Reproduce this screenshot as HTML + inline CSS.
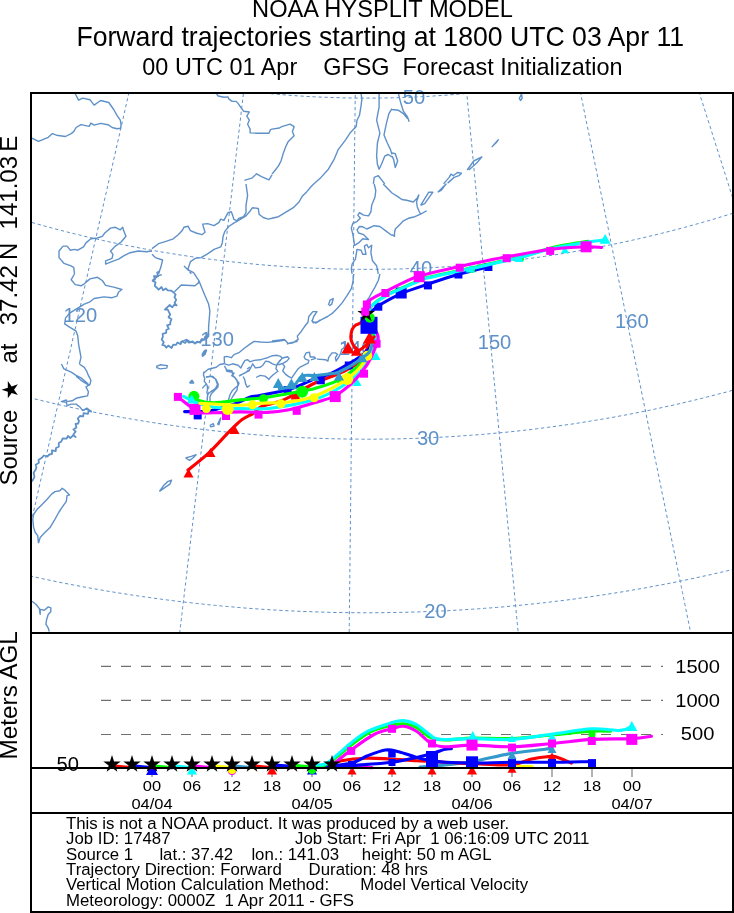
<!DOCTYPE html>
<html><head><meta charset="utf-8"><style>
html,body{margin:0;padding:0;background:#fff;width:734px;height:913px;overflow:hidden}
svg{display:block;will-change:transform}
text{font-family:"Liberation Sans",sans-serif}
</style></head><body>
<svg width="734" height="913" viewBox="0 0 734 913"><text transform="translate(382.5,16.75) scale(0.957,1)" font-size="24.7" text-anchor="middle" font-family="Liberation Sans, sans-serif">NOAA HYSPLIT MODEL</text>
<text transform="translate(380.25,45.9) scale(0.965,1)" font-size="27.6" text-anchor="middle" font-family="Liberation Sans, sans-serif">Forward trajectories starting at 1800 UTC 03 Apr 11</text>
<text transform="translate(382.4,74.9) scale(0.96,1)" font-size="24.4" text-anchor="middle" font-family="Liberation Sans, sans-serif" xml:space="preserve">00 UTC 01 Apr    GFSG  Forecast Initialization</text>
<text transform="translate(17,485.6) rotate(-90)" font-size="24" font-family="Liberation Sans, sans-serif">Source</text>
<text transform="translate(17,363.5) rotate(-90)" font-size="24" font-family="Liberation Sans, sans-serif">at</text>
<text transform="translate(17,325.3) rotate(-90)" font-size="24" font-family="Liberation Sans, sans-serif">37.42</text>
<text transform="translate(17,259.9) rotate(-90)" font-size="24" font-family="Liberation Sans, sans-serif">N</text>
<text transform="translate(17,229.4) rotate(-90)" font-size="24" font-family="Liberation Sans, sans-serif">141.03</text>
<text transform="translate(17,151.7) rotate(-90)" font-size="24" font-family="Liberation Sans, sans-serif">E</text>
<polygon points="1.60,389.65 7.82,387.63 7.82,381.09 11.66,386.38 17.88,384.36 14.04,389.65 17.88,394.94 11.66,392.92 7.82,398.21 7.82,391.67" fill="#000" />
<text transform="translate(17,695.3) rotate(-90)" font-size="24.3" text-anchor="middle" font-family="Liberation Sans, sans-serif">Meters AGL</text>
<defs><clipPath id="mc"><rect x="32" y="94" width="700" height="538"/></clipPath></defs>
<g clip-path="url(#mc)"><path d="M-263.7,887.2 L-261.3,880.4 L-259.0,873.5 L-256.6,866.7 L-254.3,859.9 L-252.0,853.1 L-249.7,846.4 L-247.4,839.7 L-245.1,833.0 L-242.8,826.3 L-240.5,819.7 L-238.2,813.0 L-236.0,806.4 L-233.7,799.8 L-231.5,793.3 L-229.2,786.7 L-227.0,780.2 L-224.8,773.7 L-222.5,767.2 L-220.3,760.7 L-218.1,754.3 L-215.9,747.9 L-213.7,741.5 L-211.5,735.1 L-209.4,728.7 L-207.2,722.4 L-205.0,716.0 L-202.8,709.7 L-200.7,703.4 L-198.5,697.2 L-196.4,690.9 L-194.2,684.7 L-192.1,678.4 L-190.0,672.2 L-187.9,666.0 L-185.7,659.8 L-183.6,653.7 L-181.5,647.5 L-179.4,641.4 L-177.3,635.3 L-175.2,629.2 L-173.1,623.1 L-171.1,617.0 L-169.0,610.9 L-166.9,604.9 L-164.8,598.8 L-162.8,592.8 L-160.7,586.8 L-158.6,580.8 L-156.6,574.8 L-154.5,568.8 L-152.5,562.9 L-150.5,556.9 L-148.4,551.0 L-146.4,545.0 L-144.4,539.1 L-142.3,533.2 L-140.3,527.3 L-138.3,521.4 L-136.3,515.6 L-134.3,509.7 L-132.3,503.8 L-130.3,498.0 L-128.3,492.1 L-126.3,486.3 L-124.3,480.5 L-122.3,474.7 L-120.3,468.9 L-118.3,463.1 L-116.3,457.3 L-114.3,451.5 L-112.3,445.7 L-110.4,440.0 L-108.4,434.2 L-106.4,428.5 L-104.5,422.7 L-102.5,417.0 L-100.5,411.2 L-98.6,405.5 L-96.6,399.8 L-94.6,394.1 L-92.7,388.4 L-90.7,382.7 L-88.8,377.0 L-86.8,371.3 L-84.9,365.6 L-82.9,359.9 L-81.0,354.2 L-79.0,348.5 L-77.1,342.9 L-75.1,337.2 L-73.2,331.5 L-71.3,325.9 L-69.3,320.2 L-67.4,314.5 L-65.4,308.9 L-63.5,303.2 L-61.6,297.6 L-59.6,291.9 L-57.7,286.3 L-55.8,280.7 L-53.8,275.0 L-51.9,269.4 L-50.0,263.7 L-48.0,258.1 L-46.1,252.5 L-44.2,246.8 L-42.2,241.2 L-40.3,235.5 L-38.4,229.9 L-36.4,224.3 L-34.5,218.6 L-32.6,213.0 L-30.6,207.3 L-28.7,201.7 L-26.8,196.0 L-24.8,190.4 L-22.9,184.7 L-20.9,179.1 L-19.0,173.4 L-17.1,167.8 L-15.1,162.1 L-13.2,156.5 L-11.2,150.8 L-9.3,145.1 L-7.4,139.5 L-5.4,133.8 L-3.5,128.1 L-1.5,122.4 L0.4,116.7 L2.4,111.0 L4.3,105.3 L6.3,99.6 L8.3,93.9 L10.2,88.2 L12.2,82.4 L14.1,76.7 L16.1,71.0 L18.1,65.2 L20.1,59.5 L22.0,53.7 L24.0,47.9 L26.0,42.2 L28.0,36.4 L30.0,30.6 L32.0,24.8 L33.9,19.0 L35.9,13.1 L37.9,7.3 L39.9,1.5 L42.0,-4.4 L44.0,-10.3 L46.0,-16.2 L48.0,-22.0 L50.0,-27.9 L52.1,-33.9 L54.1,-39.8 L56.1,-45.7 L58.2,-51.7 L60.2,-57.7 L62.3,-63.6 L64.3,-69.6 L66.4,-75.6 L68.4,-81.7 L70.5,-87.7 L72.6,-93.8 L74.7,-99.9 L76.8,-106.0 L78.9,-112.1 L81.0,-118.2 L83.1,-124.3 L85.2,-130.5 L87.3,-136.7 L89.4,-142.9 L91.6,-149.1 L93.7,-155.4 L95.9,-161.7 L98.0,-168.0 L100.2,-174.3 L102.4,-180.6 L104.5,-187.0 L106.7,-193.4 L108.9,-199.8 L111.1,-206.2 L113.4,-212.7 L115.6,-219.2 L117.8,-225.7 L120.1,-232.3 L122.3,-238.9 L124.6,-245.5 L126.9,-252.1 L129.2,-258.8 L131.5,-265.5 L133.8,-272.3 L136.1,-279.0 L138.4,-285.8 L140.8,-292.7 L143.1,-299.6 L145.5,-306.5 L147.9,-313.5 M-64.9,943.8 L-63.3,936.7 L-61.6,929.6 L-60.0,922.6 L-58.5,915.6 L-56.9,908.6 L-55.3,901.7 L-53.7,894.8 L-52.1,887.9 L-50.6,881.0 L-49.0,874.1 L-47.4,867.3 L-45.9,860.5 L-44.3,853.7 L-42.8,846.9 L-41.3,840.2 L-39.7,833.4 L-38.2,826.7 L-36.7,820.1 L-35.2,813.4 L-33.7,806.8 L-32.2,800.1 L-30.7,793.5 L-29.2,787.0 L-27.7,780.4 L-26.2,773.9 L-24.7,767.3 L-23.2,760.8 L-21.7,754.3 L-20.2,747.9 L-18.8,741.4 L-17.3,735.0 L-15.9,728.6 L-14.4,722.2 L-12.9,715.8 L-11.5,709.4 L-10.0,703.0 L-8.6,696.7 L-7.2,690.4 L-5.7,684.1 L-4.3,677.8 L-2.9,671.5 L-1.4,665.2 L-0.0,659.0 L1.4,652.7 L2.8,646.5 L4.2,640.3 L5.7,634.1 L7.1,627.9 L8.5,621.8 L9.9,615.6 L11.3,609.4 L12.7,603.3 L14.1,597.2 L15.5,591.1 L16.8,585.0 L18.2,578.9 L19.6,572.8 L21.0,566.7 L22.4,560.7 L23.8,554.6 L25.1,548.6 L26.5,542.6 L27.9,536.5 L29.2,530.5 L30.6,524.5 L32.0,518.5 L33.3,512.6 L34.7,506.6 L36.1,500.6 L37.4,494.7 L38.8,488.7 L40.1,482.8 L41.5,476.8 L42.8,470.9 L44.2,465.0 L45.5,459.1 L46.9,453.2 L48.2,447.3 L49.6,441.4 L50.9,435.5 L52.2,429.6 L53.6,423.7 L54.9,417.8 L56.2,412.0 L57.6,406.1 L58.9,400.2 L60.3,394.4 L61.6,388.5 L62.9,382.7 L64.2,376.8 L65.6,371.0 L66.9,365.2 L68.2,359.3 L69.6,353.5 L70.9,347.7 L72.2,341.8 L73.5,336.0 L74.9,330.2 L76.2,324.4 L77.5,318.6 L78.8,312.7 L80.2,306.9 L81.5,301.1 L82.8,295.3 L84.1,289.5 L85.5,283.7 L86.8,277.9 L88.1,272.1 L89.4,266.2 L90.8,260.4 L92.1,254.6 L93.4,248.8 L94.7,243.0 L96.1,237.2 L97.4,231.3 L98.7,225.5 L100.0,219.7 L101.4,213.9 L102.7,208.0 L104.0,202.2 L105.3,196.4 L106.7,190.5 L108.0,184.7 L109.3,178.9 L110.7,173.0 L112.0,167.2 L113.3,161.3 L114.7,155.4 L116.0,149.6 L117.3,143.7 L118.7,137.8 L120.0,131.9 L121.4,126.1 L122.7,120.2 L124.0,114.3 L125.4,108.3 L126.7,102.4 L128.1,96.5 L129.4,90.6 L130.8,84.6 L132.1,78.7 L133.5,72.7 L134.9,66.8 L136.2,60.8 L137.6,54.8 L138.9,48.8 L140.3,42.8 L141.7,36.8 L143.1,30.8 L144.4,24.7 L145.8,18.7 L147.2,12.6 L148.6,6.6 L150.0,0.5 L151.3,-5.6 L152.7,-11.7 L154.1,-17.9 L155.5,-24.0 L156.9,-30.1 L158.3,-36.3 L159.7,-42.5 L161.2,-48.7 L162.6,-54.9 L164.0,-61.1 L165.4,-67.4 L166.8,-73.6 L168.3,-79.9 L169.7,-86.2 L171.1,-92.5 L172.6,-98.9 L174.0,-105.2 L175.5,-111.6 L176.9,-118.0 L178.4,-124.4 L179.9,-130.9 L181.3,-137.4 L182.8,-143.8 L184.3,-150.4 L185.8,-156.9 L187.3,-163.5 L188.8,-170.0 L190.3,-176.7 L191.8,-183.3 L193.3,-190.0 L194.9,-196.7 L196.4,-203.4 L197.9,-210.1 L199.5,-216.9 L201.0,-223.7 L202.6,-230.6 L204.1,-237.5 L205.7,-244.4 L207.3,-251.3 L208.9,-258.3 L210.5,-265.4 L212.1,-272.4 L213.7,-279.5 L215.3,-286.7 L217.0,-293.8 M138.8,978.9 L139.7,971.7 L140.5,964.5 L141.4,957.4 L142.2,950.2 L143.1,943.1 L143.9,936.0 L144.7,929.0 L145.6,921.9 L146.4,914.9 L147.2,908.0 L148.0,901.0 L148.9,894.1 L149.7,887.1 L150.5,880.2 L151.3,873.4 L152.1,866.5 L152.9,859.7 L153.7,852.9 L154.5,846.1 L155.3,839.4 L156.1,832.6 L156.9,825.9 L157.7,819.2 L158.5,812.5 L159.3,805.8 L160.1,799.2 L160.9,792.6 L161.6,786.0 L162.4,779.4 L163.2,772.8 L164.0,766.2 L164.7,759.7 L165.5,753.2 L166.3,746.7 L167.0,740.2 L167.8,733.7 L168.6,727.3 L169.3,720.8 L170.1,714.4 L170.8,708.0 L171.6,701.6 L172.4,695.2 L173.1,688.8 L173.9,682.5 L174.6,676.1 L175.4,669.8 L176.1,663.5 L176.8,657.2 L177.6,650.9 L178.3,644.6 L179.1,638.4 L179.8,632.1 L180.5,625.9 L181.3,619.7 L182.0,613.5 L182.7,607.3 L183.5,601.1 L184.2,594.9 L184.9,588.7 L185.7,582.6 L186.4,576.4 L187.1,570.3 L187.8,564.1 L188.6,558.0 L189.3,551.9 L190.0,545.8 L190.7,539.7 L191.4,533.6 L192.2,527.5 L192.9,521.5 L193.6,515.4 L194.3,509.4 L195.0,503.3 L195.7,497.3 L196.5,491.2 L197.2,485.2 L197.9,479.2 L198.6,473.2 L199.3,467.2 L200.0,461.2 L200.7,455.2 L201.4,449.2 L202.1,443.2 L202.8,437.2 L203.5,431.3 L204.2,425.3 L204.9,419.3 L205.7,413.4 L206.4,407.4 L207.1,401.5 L207.8,395.5 L208.5,389.6 L209.2,383.6 L209.9,377.7 L210.6,371.8 L211.3,365.8 L212.0,359.9 L212.7,354.0 L213.4,348.0 L214.1,342.1 L214.8,336.2 L215.5,330.3 L216.2,324.3 L216.9,318.4 L217.6,312.5 L218.3,306.6 L219.0,300.7 L219.7,294.7 L220.4,288.8 L221.1,282.9 L221.8,277.0 L222.5,271.1 L223.2,265.1 L223.9,259.2 L224.6,253.3 L225.3,247.3 L226.0,241.4 L226.7,235.5 L227.4,229.5 L228.1,223.6 L228.8,217.7 L229.5,211.7 L230.2,205.8 L230.9,199.8 L231.6,193.9 L232.3,187.9 L233.0,181.9 L233.7,176.0 L234.4,170.0 L235.1,164.0 L235.8,158.0 L236.5,152.0 L237.2,146.0 L237.9,140.0 L238.7,134.0 L239.4,128.0 L240.1,122.0 L240.8,115.9 L241.5,109.9 L242.2,103.9 L242.9,97.8 L243.7,91.7 L244.4,85.7 L245.1,79.6 L245.8,73.5 L246.5,67.4 L247.3,61.3 L248.0,55.1 L248.7,49.0 L249.4,42.8 L250.2,36.7 L250.9,30.5 L251.6,24.3 L252.3,18.1 L253.1,11.9 L253.8,5.7 L254.6,-0.5 L255.3,-6.8 L256.0,-13.1 L256.8,-19.3 L257.5,-25.6 L258.3,-31.9 L259.0,-38.3 L259.8,-44.6 L260.5,-51.0 L261.3,-57.4 L262.0,-63.8 L262.8,-70.2 L263.5,-76.6 L264.3,-83.1 L265.1,-89.5 L265.8,-96.0 L266.6,-102.6 L267.4,-109.1 L268.2,-115.7 L268.9,-122.3 L269.7,-128.9 L270.5,-135.5 L271.3,-142.1 L272.1,-148.8 L272.9,-155.5 L273.7,-162.3 L274.5,-169.0 L275.3,-175.8 L276.1,-182.7 L276.9,-189.5 L277.7,-196.4 L278.5,-203.3 L279.3,-210.2 L280.2,-217.2 L281.0,-224.2 L281.8,-231.3 L282.6,-238.3 L283.5,-245.5 L284.3,-252.6 L285.2,-259.8 L286.0,-267.0 L286.9,-274.3 L287.8,-281.6 M345.1,992.2 L345.2,985.0 L345.3,977.7 L345.4,970.5 L345.4,963.3 L345.5,956.2 L345.6,949.0 L345.7,941.9 L345.8,934.9 L345.8,927.8 L345.9,920.8 L346.0,913.8 L346.1,906.8 L346.2,899.8 L346.2,892.9 L346.3,886.0 L346.4,879.1 L346.5,872.2 L346.5,865.3 L346.6,858.5 L346.7,851.7 L346.8,844.9 L346.9,838.1 L346.9,831.4 L347.0,824.7 L347.1,818.0 L347.2,811.3 L347.2,804.6 L347.3,797.9 L347.4,791.3 L347.5,784.7 L347.5,778.1 L347.6,771.5 L347.7,764.9 L347.8,758.4 L347.8,751.8 L347.9,745.3 L348.0,738.8 L348.0,732.3 L348.1,725.9 L348.2,719.4 L348.3,713.0 L348.3,706.6 L348.4,700.1 L348.5,693.7 L348.6,687.4 L348.6,681.0 L348.7,674.6 L348.8,668.3 L348.8,662.0 L348.9,655.7 L349.0,649.3 L349.1,643.1 L349.1,636.8 L349.2,630.5 L349.3,624.2 L349.3,618.0 L349.4,611.8 L349.5,605.5 L349.5,599.3 L349.6,593.1 L349.7,586.9 L349.8,580.8 L349.8,574.6 L349.9,568.4 L350.0,562.3 L350.0,556.1 L350.1,550.0 L350.2,543.9 L350.2,537.7 L350.3,531.6 L350.4,525.5 L350.4,519.4 L350.5,513.3 L350.6,507.3 L350.7,501.2 L350.7,495.1 L350.8,489.1 L350.9,483.0 L350.9,477.0 L351.0,470.9 L351.1,464.9 L351.1,458.9 L351.2,452.8 L351.3,446.8 L351.3,440.8 L351.4,434.8 L351.5,428.8 L351.5,422.8 L351.6,416.8 L351.7,410.8 L351.7,404.8 L351.8,398.8 L351.9,392.8 L351.9,386.9 L352.0,380.9 L352.1,374.9 L352.1,368.9 L352.2,363.0 L352.3,357.0 L352.3,351.0 L352.4,345.1 L352.5,339.1 L352.5,333.1 L352.6,327.2 L352.7,321.2 L352.8,315.3 L352.8,309.3 L352.9,303.3 L353.0,297.4 L353.0,291.4 L353.1,285.4 L353.2,279.5 L353.2,273.5 L353.3,267.6 L353.4,261.6 L353.4,255.6 L353.5,249.6 L353.6,243.7 L353.6,237.7 L353.7,231.7 L353.8,225.7 L353.8,219.7 L353.9,213.8 L354.0,207.8 L354.0,201.8 L354.1,195.8 L354.2,189.8 L354.2,183.7 L354.3,177.7 L354.4,171.7 L354.4,165.7 L354.5,159.6 L354.6,153.6 L354.6,147.6 L354.7,141.5 L354.8,135.5 L354.8,129.4 L354.9,123.3 L355.0,117.2 L355.1,111.1 L355.1,105.0 L355.2,98.9 L355.3,92.8 L355.3,86.7 L355.4,80.5 L355.5,74.4 L355.5,68.2 L355.6,62.1 L355.7,55.9 L355.7,49.7 L355.8,43.5 L355.9,37.3 L356.0,31.1 L356.0,24.8 L356.1,18.6 L356.2,12.3 L356.2,6.0 L356.3,-0.3 L356.4,-6.6 L356.5,-12.9 L356.5,-19.2 L356.6,-25.6 L356.7,-32.0 L356.7,-38.4 L356.8,-44.8 L356.9,-51.2 L357.0,-57.6 L357.0,-64.1 L357.1,-70.6 L357.2,-77.1 L357.3,-83.6 L357.3,-90.1 L357.4,-96.7 L357.5,-103.3 L357.5,-109.9 L357.6,-116.5 L357.7,-123.2 L357.8,-129.9 L357.8,-136.6 L357.9,-143.3 L358.0,-150.0 L358.1,-156.8 L358.2,-163.6 L358.2,-170.5 L358.3,-177.3 L358.4,-184.2 L358.5,-191.2 L358.5,-198.1 L358.6,-205.1 L358.7,-212.1 L358.8,-219.2 L358.9,-226.3 L358.9,-233.4 L359.0,-240.6 L359.1,-247.8 L359.2,-255.0 L359.3,-262.3 L359.4,-269.6 L359.4,-277.0 M551.6,983.6 L550.9,976.3 L550.3,969.1 L549.6,962.0 L548.9,954.8 L548.2,947.7 L547.5,940.6 L546.9,933.5 L546.2,926.5 L545.5,919.4 L544.9,912.4 L544.2,905.5 L543.5,898.5 L542.9,891.6 L542.2,884.7 L541.6,877.8 L540.9,870.9 L540.2,864.1 L539.6,857.3 L538.9,850.5 L538.3,843.7 L537.7,836.9 L537.0,830.2 L536.4,823.5 L535.7,816.8 L535.1,810.1 L534.5,803.4 L533.8,796.8 L533.2,790.1 L532.6,783.5 L531.9,776.9 L531.3,770.4 L530.7,763.8 L530.1,757.3 L529.4,750.8 L528.8,744.3 L528.2,737.8 L527.6,731.3 L527.0,724.8 L526.4,718.4 L525.7,712.0 L525.1,705.6 L524.5,699.2 L523.9,692.8 L523.3,686.4 L522.7,680.1 L522.1,673.7 L521.5,667.4 L520.9,661.1 L520.3,654.8 L519.7,648.5 L519.1,642.2 L518.5,636.0 L517.9,629.7 L517.3,623.5 L516.7,617.2 L516.1,611.0 L515.5,604.8 L514.9,598.6 L514.4,592.4 L513.8,586.3 L513.2,580.1 L512.6,573.9 L512.0,567.8 L511.4,561.7 L510.8,555.5 L510.3,549.4 L509.7,543.3 L509.1,537.2 L508.5,531.1 L507.9,525.0 L507.3,518.9 L506.8,512.9 L506.2,506.8 L505.6,500.8 L505.0,494.7 L504.5,488.7 L503.9,482.6 L503.3,476.6 L502.7,470.6 L502.2,464.6 L501.6,458.6 L501.0,452.6 L500.5,446.6 L499.9,440.6 L499.3,434.6 L498.7,428.6 L498.2,422.6 L497.6,416.7 L497.0,410.7 L496.5,404.7 L495.9,398.8 L495.3,392.8 L494.8,386.8 L494.2,380.9 L493.6,374.9 L493.1,369.0 L492.5,363.1 L491.9,357.1 L491.4,351.2 L490.8,345.2 L490.2,339.3 L489.7,333.4 L489.1,327.4 L488.5,321.5 L488.0,315.5 L487.4,309.6 L486.8,303.7 L486.3,297.7 L485.7,291.8 L485.1,285.9 L484.6,279.9 L484.0,274.0 L483.4,268.1 L482.9,262.1 L482.3,256.2 L481.7,250.2 L481.2,244.3 L480.6,238.3 L480.0,232.4 L479.5,226.4 L478.9,220.5 L478.3,214.5 L477.8,208.6 L477.2,202.6 L476.6,196.6 L476.1,190.7 L475.5,184.7 L474.9,178.7 L474.3,172.7 L473.8,166.7 L473.2,160.7 L472.6,154.7 L472.1,148.7 L471.5,142.7 L470.9,136.6 L470.3,130.6 L469.8,124.6 L469.2,118.5 L468.6,112.5 L468.0,106.4 L467.4,100.3 L466.9,94.2 L466.3,88.2 L465.7,82.1 L465.1,75.9 L464.5,69.8 L464.0,63.7 L463.4,57.6 L462.8,51.4 L462.2,45.2 L461.6,39.1 L461.0,32.9 L460.4,26.7 L459.8,20.5 L459.2,14.2 L458.6,8.0 L458.1,1.8 L457.5,-4.5 L456.9,-10.8 L456.3,-17.1 L455.7,-23.4 L455.0,-29.7 L454.4,-36.1 L453.8,-42.4 L453.2,-48.8 L452.6,-55.2 L452.0,-61.6 L451.4,-68.1 L450.8,-74.5 L450.2,-81.0 L449.5,-87.5 L448.9,-94.0 L448.3,-100.5 L447.7,-107.1 L447.1,-113.6 L446.4,-120.2 L445.8,-126.9 L445.2,-133.5 L444.5,-140.2 L443.9,-146.9 L443.2,-153.6 L442.6,-160.4 L442.0,-167.1 L441.3,-174.0 L440.6,-180.8 L440.0,-187.7 L439.3,-194.6 L438.7,-201.5 L438.0,-208.4 L437.3,-215.4 L436.7,-222.5 L436.0,-229.5 L435.3,-236.6 L434.6,-243.8 L434.0,-250.9 L433.3,-258.1 L432.6,-265.4 L431.9,-272.7 L431.2,-280.0 M756.1,953.0 L754.6,945.9 L753.2,938.8 L751.7,931.8 L750.3,924.7 L748.9,917.7 L747.4,910.7 L746.0,903.8 L744.6,896.8 L743.2,889.9 L741.8,883.0 L740.4,876.2 L739.0,869.3 L737.6,862.5 L736.2,855.7 L734.8,848.9 L733.4,842.2 L732.1,835.4 L730.7,828.7 L729.3,822.0 L728.0,815.4 L726.6,808.7 L725.3,802.1 L723.9,795.5 L722.6,788.9 L721.2,782.3 L719.9,775.7 L718.6,769.2 L717.2,762.7 L715.9,756.2 L714.6,749.7 L713.2,743.2 L711.9,736.8 L710.6,730.3 L709.3,723.9 L708.0,717.5 L706.7,711.1 L705.4,704.8 L704.1,698.4 L702.8,692.1 L701.5,685.7 L700.2,679.4 L698.9,673.1 L697.7,666.9 L696.4,660.6 L695.1,654.3 L693.8,648.1 L692.6,641.9 L691.3,635.6 L690.0,629.4 L688.8,623.3 L687.5,617.1 L686.2,610.9 L685.0,604.8 L683.7,598.6 L682.5,592.5 L681.2,586.4 L680.0,580.3 L678.7,574.2 L677.5,568.1 L676.3,562.0 L675.0,555.9 L673.8,549.9 L672.5,543.8 L671.3,537.8 L670.1,531.8 L668.9,525.7 L667.6,519.7 L666.4,513.7 L665.2,507.7 L664.0,501.7 L662.7,495.8 L661.5,489.8 L660.3,483.8 L659.1,477.9 L657.9,471.9 L656.7,466.0 L655.4,460.0 L654.2,454.1 L653.0,448.2 L651.8,442.2 L650.6,436.3 L649.4,430.4 L648.2,424.5 L647.0,418.6 L645.8,412.7 L644.6,406.8 L643.4,401.0 L642.2,395.1 L641.0,389.2 L639.8,383.3 L638.6,377.5 L637.4,371.6 L636.2,365.7 L635.0,359.9 L633.8,354.0 L632.6,348.2 L631.4,342.3 L630.2,336.5 L629.0,330.6 L627.8,324.8 L626.6,318.9 L625.5,313.1 L624.3,307.2 L623.1,301.4 L621.9,295.6 L620.7,289.7 L619.5,283.9 L618.3,278.0 L617.1,272.2 L615.9,266.4 L614.7,260.5 L613.5,254.7 L612.3,248.8 L611.1,243.0 L609.9,237.1 L608.8,231.3 L607.6,225.4 L606.4,219.6 L605.2,213.7 L604.0,207.9 L602.8,202.0 L601.6,196.1 L600.4,190.3 L599.2,184.4 L598.0,178.5 L596.8,172.6 L595.6,166.7 L594.4,160.9 L593.2,155.0 L592.0,149.1 L590.8,143.2 L589.6,137.2 L588.4,131.3 L587.1,125.4 L585.9,119.5 L584.7,113.5 L583.5,107.6 L582.3,101.6 L581.1,95.7 L579.9,89.7 L578.6,83.7 L577.4,77.7 L576.2,71.7 L575.0,65.7 L573.7,59.7 L572.5,53.7 L571.3,47.7 L570.0,41.6 L568.8,35.6 L567.6,29.5 L566.3,23.4 L565.1,17.3 L563.8,11.2 L562.6,5.1 L561.3,-1.0 L560.1,-7.1 L558.8,-13.3 L557.6,-19.5 L556.3,-25.6 L555.0,-31.8 L553.8,-38.0 L552.5,-44.3 L551.2,-50.5 L550.0,-56.8 L548.7,-63.1 L547.4,-69.4 L546.1,-75.7 L544.8,-82.0 L543.5,-88.3 L542.2,-94.7 L540.9,-101.1 L539.6,-107.5 L538.3,-113.9 L537.0,-120.4 L535.6,-126.9 L534.3,-133.4 L533.0,-139.9 L531.7,-146.4 L530.3,-153.0 L529.0,-159.6 L527.6,-166.2 L526.3,-172.9 L524.9,-179.5 L523.5,-186.2 L522.2,-193.0 L520.8,-199.7 L519.4,-206.5 L518.0,-213.3 L516.6,-220.2 L515.2,-227.1 L513.8,-234.0 L512.4,-240.9 L510.9,-247.9 L509.5,-254.9 L508.1,-262.0 L506.6,-269.1 L505.2,-276.2 L503.7,-283.4 L502.2,-290.6 M956.1,901.0 L953.9,894.1 L951.7,887.2 L949.6,880.3 L947.4,873.5 L945.2,866.7 L943.1,859.9 L940.9,853.1 L938.8,846.3 L936.6,839.6 L934.5,832.9 L932.4,826.2 L930.3,819.6 L928.1,812.9 L926.0,806.3 L923.9,799.7 L921.9,793.2 L919.8,786.6 L917.7,780.1 L915.6,773.6 L913.6,767.1 L911.5,760.6 L909.5,754.2 L907.4,747.7 L905.4,741.3 L903.3,734.9 L901.3,728.5 L899.3,722.2 L897.3,715.8 L895.3,709.5 L893.3,703.2 L891.3,696.9 L889.3,690.6 L887.3,684.4 L885.3,678.1 L883.3,671.9 L881.4,665.7 L879.4,659.5 L877.4,653.3 L875.5,647.1 L873.5,641.0 L871.6,634.9 L869.6,628.7 L867.7,622.6 L865.7,616.5 L863.8,610.4 L861.9,604.4 L859.9,598.3 L858.0,592.3 L856.1,586.2 L854.2,580.2 L852.3,574.2 L850.4,568.2 L848.5,562.2 L846.6,556.3 L844.7,550.3 L842.8,544.3 L840.9,538.4 L839.0,532.5 L837.1,526.5 L835.3,520.6 L833.4,514.7 L831.5,508.8 L829.6,503.0 L827.8,497.1 L825.9,491.2 L824.1,485.4 L822.2,479.5 L820.3,473.7 L818.5,467.8 L816.6,462.0 L814.8,456.2 L812.9,450.4 L811.1,444.6 L809.3,438.8 L807.4,433.0 L805.6,427.2 L803.7,421.4 L801.9,415.7 L800.1,409.9 L798.2,404.2 L796.4,398.4 L794.6,392.7 L792.8,386.9 L790.9,381.2 L789.1,375.4 L787.3,369.7 L785.5,364.0 L783.7,358.3 L781.9,352.6 L780.0,346.8 L778.2,341.1 L776.4,335.4 L774.6,329.7 L772.8,324.0 L771.0,318.3 L769.2,312.6 L767.4,306.9 L765.6,301.3 L763.7,295.6 L761.9,289.9 L760.1,284.2 L758.3,278.5 L756.5,272.8 L754.7,267.1 L752.9,261.5 L751.1,255.8 L749.3,250.1 L747.5,244.4 L745.7,238.7 L743.9,233.1 L742.1,227.4 L740.3,221.7 L738.5,216.0 L736.7,210.3 L734.8,204.6 L733.0,198.9 L731.2,193.3 L729.4,187.6 L727.6,181.9 L725.8,176.2 L724.0,170.5 L722.2,164.8 L720.4,159.0 L718.5,153.3 L716.7,147.6 L714.9,141.9 L713.1,136.2 L711.3,130.4 L709.5,124.7 L707.6,119.0 L705.8,113.2 L704.0,107.5 L702.1,101.7 L700.3,96.0 L698.5,90.2 L696.6,84.4 L694.8,78.6 L693.0,72.8 L691.1,67.0 L689.3,61.2 L687.4,55.4 L685.6,49.6 L683.7,43.8 L681.9,37.9 L680.0,32.1 L678.2,26.2 L676.3,20.4 L674.4,14.5 L672.6,8.6 L670.7,2.7 L668.8,-3.2 L666.9,-9.1 L665.0,-15.1 L663.1,-21.0 L661.3,-27.0 L659.4,-33.0 L657.5,-38.9 L655.5,-44.9 L653.6,-51.0 L651.7,-57.0 L649.8,-63.0 L647.9,-69.1 L645.9,-75.2 L644.0,-81.2 L642.1,-87.4 L640.1,-93.5 L638.2,-99.6 L636.2,-105.8 L634.3,-112.0 L632.3,-118.1 L630.3,-124.4 L628.3,-130.6 L626.3,-136.9 L624.3,-143.1 L622.3,-149.4 L620.3,-155.7 L618.3,-162.1 L616.3,-168.5 L614.3,-174.8 L612.2,-181.3 L610.2,-187.7 L608.1,-194.2 L606.1,-200.6 L604.0,-207.2 L601.9,-213.7 L599.8,-220.3 L597.7,-226.9 L595.6,-233.5 L593.5,-240.2 L591.4,-246.9 L589.2,-253.6 L587.1,-260.4 L584.9,-267.2 L582.8,-274.0 L580.6,-280.9 L578.4,-287.8 L576.2,-294.7 L574.0,-301.7 L571.7,-308.7 M1149.5,828.0 L1146.6,821.4 L1143.7,814.8 L1140.8,808.2 L1137.9,801.6 L1135.0,795.0 L1132.2,788.5 L1129.3,782.0 L1126.4,775.5 L1123.6,769.1 L1120.8,762.6 L1118.0,756.2 L1115.2,749.8 L1112.4,743.4 L1109.6,737.1 L1106.8,730.7 L1104.0,724.4 L1101.2,718.1 L1098.5,711.9 L1095.7,705.6 L1093.0,699.4 L1090.3,693.2 L1087.5,687.0 L1084.8,680.8 L1082.1,674.6 L1079.4,668.5 L1076.7,662.3 L1074.0,656.2 L1071.4,650.1 L1068.7,644.1 L1066.0,638.0 L1063.4,632.0 L1060.7,625.9 L1058.1,619.9 L1055.5,613.9 L1052.8,607.9 L1050.2,602.0 L1047.6,596.0 L1045.0,590.1 L1042.4,584.2 L1039.8,578.3 L1037.2,572.4 L1034.6,566.5 L1032.0,560.6 L1029.4,554.7 L1026.9,548.9 L1024.3,543.1 L1021.8,537.3 L1019.2,531.4 L1016.7,525.7 L1014.1,519.9 L1011.6,514.1 L1009.1,508.3 L1006.5,502.6 L1004.0,496.8 L1001.5,491.1 L999.0,485.4 L996.5,479.7 L994.0,474.0 L991.5,468.3 L989.0,462.6 L986.5,457.0 L984.0,451.3 L981.5,445.6 L979.0,440.0 L976.6,434.4 L974.1,428.7 L971.6,423.1 L969.2,417.5 L966.7,411.9 L964.2,406.3 L961.8,400.7 L959.3,395.1 L956.9,389.6 L954.4,384.0 L952.0,378.4 L949.5,372.9 L947.1,367.3 L944.7,361.8 L942.2,356.3 L939.8,350.7 L937.4,345.2 L935.0,339.7 L932.5,334.2 L930.1,328.7 L927.7,323.2 L925.3,317.7 L922.9,312.2 L920.4,306.7 L918.0,301.2 L915.6,295.7 L913.2,290.2 L910.8,284.7 L908.4,279.2 L906.0,273.8 L903.6,268.3 L901.2,262.8 L898.8,257.4 L896.4,251.9 L894.0,246.4 L891.6,241.0 L889.2,235.5 L886.8,230.0 L884.4,224.6 L882.0,219.1 L879.6,213.7 L877.2,208.2 L874.8,202.7 L872.4,197.3 L870.0,191.8 L867.6,186.4 L865.2,180.9 L862.8,175.5 L860.4,170.0 L858.0,164.5 L855.6,159.1 L853.2,153.6 L850.8,148.1 L848.4,142.7 L846.0,137.2 L843.6,131.7 L841.2,126.2 L838.8,120.8 L836.4,115.3 L833.9,109.8 L831.5,104.3 L829.1,98.8 L826.7,93.3 L824.3,87.8 L821.9,82.3 L819.4,76.8 L817.0,71.3 L814.6,65.7 L812.2,60.2 L809.7,54.7 L807.3,49.1 L804.9,43.6 L802.4,38.0 L800.0,32.5 L797.5,26.9 L795.1,21.3 L792.6,15.7 L790.2,10.1 L787.7,4.5 L785.2,-1.1 L782.8,-6.7 L780.3,-12.3 L777.8,-18.0 L775.3,-23.6 L772.9,-29.3 L770.4,-34.9 L767.9,-40.6 L765.4,-46.3 L762.9,-52.0 L760.4,-57.7 L757.8,-63.4 L755.3,-69.2 L752.8,-74.9 L750.3,-80.7 L747.7,-86.5 L745.2,-92.2 L742.6,-98.1 L740.1,-103.9 L737.5,-109.7 L734.9,-115.6 L732.4,-121.4 L729.8,-127.3 L727.2,-133.2 L724.6,-139.1 L722.0,-145.1 L719.4,-151.0 L716.7,-157.0 L714.1,-163.0 L711.5,-169.0 L708.8,-175.0 L706.2,-181.1 L703.5,-187.1 L700.8,-193.2 L698.1,-199.3 L695.4,-205.5 L692.7,-211.6 L690.0,-217.8 L687.3,-224.0 L684.5,-230.3 L681.8,-236.5 L679.0,-242.8 L676.2,-249.1 L673.5,-255.5 L670.7,-261.8 L667.9,-268.2 L665.0,-274.7 L662.2,-281.1 L659.3,-287.6 L656.5,-294.2 L653.6,-300.7 L650.7,-307.3 L647.8,-313.9 L644.8,-320.6 L641.9,-327.3 L638.9,-334.1 M-536.0,543.9 L-530.1,547.4 L-524.2,550.9 L-518.3,554.4 L-512.4,557.8 L-506.5,561.3 L-500.6,564.7 L-494.6,568.0 L-488.7,571.4 L-482.7,574.7 L-476.7,578.1 L-470.7,581.3 L-464.7,584.6 L-458.7,587.9 L-452.7,591.1 L-446.6,594.3 L-440.6,597.4 L-434.5,600.6 L-428.4,603.7 L-422.3,606.8 L-416.2,609.9 L-410.1,612.9 L-404.0,616.0 L-397.8,619.0 L-391.7,621.9 L-385.5,624.9 L-379.3,627.8 L-373.2,630.7 L-367.0,633.6 L-360.7,636.5 L-354.5,639.3 L-348.3,642.1 L-342.0,644.9 L-335.8,647.7 L-329.5,650.4 L-323.3,653.1 L-317.0,655.8 L-310.7,658.5 L-304.4,661.1 L-298.0,663.7 L-291.7,666.3 L-285.4,668.9 L-279.0,671.4 L-272.7,673.9 L-266.3,676.4 L-259.9,678.9 L-253.5,681.3 L-247.1,683.7 L-240.7,686.1 L-234.3,688.5 L-227.9,690.8 L-221.5,693.1 L-215.0,695.4 L-208.6,697.7 L-202.1,699.9 L-195.6,702.2 L-189.2,704.3 L-182.7,706.5 L-176.2,708.6 L-169.7,710.8 L-163.2,712.8 L-156.7,714.9 L-150.1,716.9 L-143.6,718.9 L-137.0,720.9 L-130.5,722.9 L-123.9,724.8 L-117.4,726.7 L-110.8,728.6 L-104.2,730.5 L-97.6,732.3 L-91.0,734.1 L-84.4,735.9 L-77.8,737.6 L-71.2,739.4 L-64.6,741.1 L-58.0,742.7 L-51.3,744.4 L-44.7,746.0 L-38.0,747.6 L-31.4,749.2 L-24.7,750.7 L-18.1,752.2 L-11.4,753.7 L-4.7,755.2 L2.0,756.6 L8.7,758.1 L15.4,759.5 L22.1,760.8 L28.8,762.2 L35.5,763.5 L42.2,764.7 L48.9,766.0 L55.6,767.2 L62.4,768.4 L69.1,769.6 L75.8,770.8 L82.6,771.9 L89.3,773.0 L96.1,774.1 L102.8,775.1 L109.6,776.1 L116.4,777.1 L123.1,778.1 L129.9,779.0 L136.7,780.0 L143.5,780.8 L150.2,781.7 L157.0,782.5 L163.8,783.3 L170.6,784.1 L177.4,784.9 L184.2,785.6 L191.0,786.3 L197.8,787.0 L204.6,787.6 L211.4,788.3 L218.2,788.9 L225.0,789.4 L231.9,790.0 L238.7,790.5 L245.5,791.0 L252.3,791.4 L259.1,791.9 L266.0,792.3 L272.8,792.7 L279.6,793.0 L286.5,793.3 L293.3,793.6 L300.1,793.9 L306.9,794.2 L313.8,794.4 L320.6,794.6 L327.4,794.8 L334.3,794.9 L341.1,795.0 L348.0,795.1 L354.8,795.2 L361.6,795.2 L368.5,795.2 L375.3,795.2 L382.1,795.1 L389.0,795.1 L395.8,795.0 L402.7,794.8 L409.5,794.7 L416.3,794.5 L423.2,794.3 L430.0,794.1 L436.8,793.8 L443.7,793.5 L450.5,793.2 L457.3,792.9 L464.1,792.5 L471.0,792.1 L477.8,791.7 L484.6,791.2 L491.4,790.8 L498.2,790.3 L505.1,789.7 L511.9,789.2 L518.7,788.6 L525.5,788.0 L532.3,787.4 L539.1,786.7 L545.9,786.0 L552.7,785.3 L559.5,784.6 L566.3,783.8 L573.1,783.0 L579.9,782.2 L586.7,781.3 L593.5,780.5 L600.2,779.6 L607.0,778.7 L613.8,777.7 L620.5,776.7 L627.3,775.7 L634.1,774.7 L640.8,773.6 L647.6,772.5 L654.3,771.4 L661.1,770.3 L667.8,769.1 L674.5,767.9 L681.3,766.7 L688.0,765.5 L694.7,764.2 L701.4,762.9 L708.1,761.6 L714.8,760.3 L721.5,758.9 L728.2,757.5 L734.9,756.1 L741.6,754.6 L748.3,753.1 L754.9,751.6 L761.6,750.1 L768.2,748.5 L774.9,747.0 L781.5,745.3 L788.2,743.7 L794.8,742.1 L801.4,740.4 L808.1,738.7 L814.7,736.9 L821.3,735.2 L827.9,733.4 L834.5,731.5 L841.1,729.7 L847.6,727.8 L854.2,725.9 L860.8,724.0 L867.3,722.1 L873.9,720.1 L880.4,718.1 L886.9,716.1 L893.5,714.1 L900.0,712.0 L906.5,709.9 L913.0,707.8 L919.5,705.6 L926.0,703.4 L932.4,701.2 L938.9,699.0 L945.4,696.8 L951.8,694.5 L958.2,692.2 L964.7,689.9 L971.1,687.5 L977.5,685.1 L983.9,682.7 L990.3,680.3 L996.7,677.9 L1003.1,675.4 L1009.4,672.9 L1015.8,670.4 L1022.1,667.8 L1028.4,665.2 L1034.8,662.6 L1041.1,660.0 L1047.4,657.4 L1053.7,654.7 L1060.0,652.0 L1066.2,649.3 L1072.5,646.5 L1078.7,643.8 L1085.0,641.0 L1091.2,638.1 L1097.4,635.3 L1103.6,632.4 L1109.8,629.5 L1116.0,626.6 L1122.2,623.7 L1128.3,620.7 L1134.5,617.7 L1140.6,614.7 L1146.8,611.7 L1152.9,608.6 L1159.0,605.5 L1165.1,602.4 L1171.1,599.3 L1177.2,596.1 L1183.3,592.9 L1189.3,589.7 L1195.3,586.5 L1201.3,583.3 L1207.3,580.0 L1213.3,576.7 L1219.3,573.4 L1225.3,570.0 L1231.2,566.7 L1237.2,563.3 L1243.1,559.9 L1249.0,556.4 L1254.9,553.0 L1260.8,549.5 L1266.6,546.0 L1272.5,542.4 L1278.3,538.9 L1284.2,535.3 L1290.0,531.7 L1295.8,528.1 L1301.6,524.4 L1307.3,520.8 L1313.1,517.1 L1318.8,513.4 L1324.6,509.6 L1330.3,505.9 L1336.0,502.1 L1341.6,498.3 L1347.3,494.5 L1353.0,490.6 L1358.6,486.8 L1364.2,482.9 L1369.8,479.0 L1375.4,475.0 L1381.0,471.1 L1386.6,467.1 L1392.1,463.1 M-441.7,387.7 L-436.5,390.8 L-431.2,394.0 L-425.9,397.1 L-420.6,400.2 L-415.3,403.2 L-410.0,406.3 L-404.7,409.3 L-399.4,412.3 L-394.0,415.3 L-388.7,418.3 L-383.3,421.2 L-377.9,424.1 L-372.5,427.1 L-367.1,429.9 L-361.7,432.8 L-356.3,435.6 L-350.9,438.5 L-345.4,441.3 L-339.9,444.0 L-334.5,446.8 L-329.0,449.5 L-323.5,452.2 L-318.0,454.9 L-312.5,457.6 L-307.0,460.2 L-301.4,462.9 L-295.9,465.5 L-290.4,468.0 L-284.8,470.6 L-279.2,473.1 L-273.6,475.7 L-268.0,478.2 L-262.4,480.6 L-256.8,483.1 L-251.2,485.5 L-245.6,487.9 L-239.9,490.3 L-234.3,492.7 L-228.6,495.0 L-223.0,497.3 L-217.3,499.6 L-211.6,501.9 L-205.9,504.1 L-200.2,506.4 L-194.5,508.6 L-188.8,510.8 L-183.0,512.9 L-177.3,515.1 L-171.6,517.2 L-165.8,519.3 L-160.0,521.4 L-154.3,523.4 L-148.5,525.4 L-142.7,527.4 L-136.9,529.4 L-131.1,531.4 L-125.3,533.3 L-119.5,535.2 L-113.7,537.1 L-107.8,539.0 L-102.0,540.8 L-96.1,542.7 L-90.3,544.5 L-84.4,546.2 L-78.6,548.0 L-72.7,549.7 L-66.8,551.4 L-60.9,553.1 L-55.0,554.8 L-49.1,556.4 L-43.2,558.0 L-37.3,559.6 L-31.4,561.2 L-25.5,562.8 L-19.5,564.3 L-13.6,565.8 L-7.7,567.3 L-1.7,568.7 L4.2,570.1 L10.2,571.5 L16.2,572.9 L22.1,574.3 L28.1,575.6 L34.1,576.9 L40.1,578.2 L46.1,579.5 L52.1,580.7 L58.1,582.0 L64.1,583.2 L70.1,584.3 L76.1,585.5 L82.1,586.6 L88.1,587.7 L94.2,588.8 L100.2,589.8 L106.2,590.9 L112.3,591.9 L118.3,592.9 L124.4,593.8 L130.4,594.8 L136.5,595.7 L142.5,596.6 L148.6,597.4 L154.7,598.3 L160.7,599.1 L166.8,599.9 L172.9,600.7 L178.9,601.4 L185.0,602.1 L191.1,602.8 L197.2,603.5 L203.3,604.2 L209.4,604.8 L215.5,605.4 L221.6,606.0 L227.7,606.5 L233.8,607.1 L239.9,607.6 L246.0,608.1 L252.1,608.5 L258.2,609.0 L264.3,609.4 L270.4,609.8 L276.5,610.1 L282.6,610.5 L288.7,610.8 L294.9,611.1 L301.0,611.4 L307.1,611.6 L313.2,611.8 L319.3,612.0 L325.5,612.2 L331.6,612.4 L337.7,612.5 L343.8,612.6 L350.0,612.7 L356.1,612.7 L362.2,612.8 L368.3,612.8 L374.4,612.7 L380.6,612.7 L386.7,612.6 L392.8,612.5 L398.9,612.4 L405.1,612.3 L411.2,612.1 L417.3,612.0 L423.4,611.7 L429.5,611.5 L435.7,611.3 L441.8,611.0 L447.9,610.7 L454.0,610.3 L460.1,610.0 L466.2,609.6 L472.3,609.2 L478.5,608.8 L484.6,608.3 L490.7,607.9 L496.8,607.4 L502.9,606.9 L509.0,606.3 L515.1,605.7 L521.2,605.2 L527.3,604.5 L533.3,603.9 L539.4,603.2 L545.5,602.6 L551.6,601.8 L557.7,601.1 L563.8,600.4 L569.8,599.6 L575.9,598.8 L582.0,597.9 L588.0,597.1 L594.1,596.2 L600.1,595.3 L606.2,594.4 L612.2,593.4 L618.3,592.5 L624.3,591.5 L630.4,590.5 L636.4,589.4 L642.4,588.4 L648.5,587.3 L654.5,586.1 L660.5,585.0 L666.5,583.9 L672.5,582.7 L678.5,581.5 L684.5,580.2 L690.5,579.0 L696.5,577.7 L702.5,576.4 L708.5,575.1 L714.4,573.7 L720.4,572.4 L726.4,571.0 L732.3,569.6 L738.3,568.1 L744.2,566.6 L750.2,565.2 L756.1,563.7 L762.0,562.1 L768.0,560.6 L773.9,559.0 L779.8,557.4 L785.7,555.8 L791.6,554.1 L797.5,552.4 L803.4,550.7 L809.2,549.0 L815.1,547.3 L821.0,545.5 L826.8,543.7 L832.7,541.9 L838.5,540.1 L844.4,538.2 L850.2,536.4 L856.0,534.4 L861.8,532.5 L867.6,530.6 L873.4,528.6 L879.2,526.6 L885.0,524.6 L890.8,522.6 L896.5,520.5 L902.3,518.4 L908.0,516.3 L913.8,514.2 L919.5,512.0 L925.2,509.9 L931.0,507.7 L936.7,505.5 L942.4,503.2 L948.1,501.0 L953.7,498.7 L959.4,496.4 L965.1,494.0 L970.7,491.7 L976.4,489.3 L982.0,486.9 L987.6,484.5 L993.3,482.1 L998.9,479.6 L1004.5,477.1 L1010.1,474.6 L1015.6,472.1 L1021.2,469.6 L1026.8,467.0 L1032.3,464.4 L1037.8,461.8 L1043.4,459.1 L1048.9,456.5 L1054.4,453.8 L1059.9,451.1 L1065.4,448.4 L1070.9,445.6 L1076.3,442.9 L1081.8,440.1 L1087.2,437.3 L1092.6,434.5 L1098.1,431.6 L1103.5,428.7 L1108.9,425.9 L1114.3,422.9 L1119.6,420.0 L1125.0,417.1 L1130.4,414.1 L1135.7,411.1 L1141.0,408.1 L1146.3,405.0 L1151.6,402.0 L1156.9,398.9 L1162.2,395.8 L1167.5,392.7 L1172.7,389.5 L1178.0,386.4 L1183.2,383.2 L1188.4,380.0 L1193.6,376.8 L1198.8,373.5 L1204.0,370.3 L1209.2,367.0 L1214.3,363.7 L1219.5,360.3 L1224.6,357.0 L1229.7,353.6 L1234.8,350.3 L1239.9,346.8 L1245.0,343.4 L1250.1,340.0 L1255.1,336.5 L1260.2,333.0 L1265.2,329.5 L1270.2,326.0 L1275.2,322.5 L1280.2,318.9 L1285.1,315.3 M-352.0,239.0 L-347.4,241.8 L-342.7,244.6 L-338.0,247.4 L-333.3,250.1 L-328.6,252.9 L-323.9,255.6 L-319.1,258.3 L-314.4,261.0 L-309.6,263.6 L-304.9,266.3 L-300.1,268.9 L-295.3,271.5 L-290.5,274.1 L-285.7,276.6 L-280.9,279.2 L-276.1,281.7 L-271.3,284.2 L-266.4,286.7 L-261.6,289.1 L-256.7,291.6 L-251.8,294.0 L-246.9,296.4 L-242.1,298.8 L-237.2,301.2 L-232.2,303.6 L-227.3,305.9 L-222.4,308.2 L-217.5,310.5 L-212.5,312.8 L-207.6,315.0 L-202.6,317.3 L-197.6,319.5 L-192.6,321.7 L-187.7,323.9 L-182.7,326.0 L-177.6,328.2 L-172.6,330.3 L-167.6,332.4 L-162.6,334.5 L-157.5,336.5 L-152.5,338.6 L-147.4,340.6 L-142.4,342.6 L-137.3,344.6 L-132.2,346.5 L-127.1,348.5 L-122.0,350.4 L-116.9,352.3 L-111.8,354.2 L-106.7,356.1 L-101.6,357.9 L-96.5,359.7 L-91.3,361.5 L-86.2,363.3 L-81.0,365.1 L-75.9,366.8 L-70.7,368.5 L-65.5,370.2 L-60.4,371.9 L-55.2,373.6 L-50.0,375.2 L-44.8,376.8 L-39.6,378.4 L-34.4,380.0 L-29.2,381.6 L-23.9,383.1 L-18.7,384.6 L-13.5,386.1 L-8.2,387.6 L-3.0,389.1 L2.3,390.5 L7.5,391.9 L12.8,393.3 L18.1,394.7 L23.3,396.1 L28.6,397.4 L33.9,398.7 L39.2,400.0 L44.5,401.3 L49.8,402.5 L55.1,403.8 L60.4,405.0 L65.7,406.2 L71.0,407.3 L76.3,408.5 L81.7,409.6 L87.0,410.7 L92.3,411.8 L97.7,412.9 L103.0,413.9 L108.4,414.9 L113.7,415.9 L119.1,416.9 L124.4,417.9 L129.8,418.8 L135.2,419.7 L140.5,420.6 L145.9,421.5 L151.3,422.3 L156.7,423.2 L162.0,424.0 L167.4,424.8 L172.8,425.5 L178.2,426.3 L183.6,427.0 L189.0,427.7 L194.4,428.4 L199.8,429.1 L205.2,429.7 L210.6,430.4 L216.0,431.0 L221.4,431.5 L226.9,432.1 L232.3,432.6 L237.7,433.1 L243.1,433.6 L248.5,434.1 L254.0,434.6 L259.4,435.0 L264.8,435.4 L270.3,435.8 L275.7,436.2 L281.1,436.5 L286.6,436.8 L292.0,437.1 L297.4,437.4 L302.9,437.7 L308.3,437.9 L313.7,438.1 L319.2,438.3 L324.6,438.5 L330.1,438.7 L335.5,438.8 L341.0,438.9 L346.4,439.0 L351.8,439.1 L357.3,439.1 L362.7,439.2 L368.2,439.2 L373.6,439.2 L379.1,439.1 L384.5,439.1 L390.0,439.0 L395.4,438.9 L400.8,438.8 L406.3,438.6 L411.7,438.5 L417.2,438.3 L422.6,438.1 L428.1,437.8 L433.5,437.6 L438.9,437.3 L444.4,437.0 L449.8,436.7 L455.2,436.4 L460.7,436.0 L466.1,435.6 L471.5,435.2 L477.0,434.8 L482.4,434.4 L487.8,433.9 L493.2,433.4 L498.7,432.9 L504.1,432.4 L509.5,431.9 L514.9,431.3 L520.3,430.7 L525.7,430.1 L531.1,429.5 L536.5,428.8 L541.9,428.1 L547.3,427.4 L552.7,426.7 L558.1,426.0 L563.5,425.2 L568.9,424.5 L574.3,423.7 L579.7,422.8 L585.1,422.0 L590.4,421.1 L595.8,420.2 L601.2,419.3 L606.5,418.4 L611.9,417.5 L617.3,416.5 L622.6,415.5 L628.0,414.5 L633.3,413.5 L638.7,412.4 L644.0,411.3 L649.3,410.3 L654.7,409.1 L660.0,408.0 L665.3,406.8 L670.6,405.7 L675.9,404.5 L681.2,403.3 L686.5,402.0 L691.8,400.8 L697.1,399.5 L702.4,398.2 L707.7,396.8 L713.0,395.5 L718.2,394.1 L723.5,392.8 L728.8,391.4 L734.0,389.9 L739.3,388.5 L744.5,387.0 L749.8,385.5 L755.0,384.0 L760.2,382.5 L765.4,380.9 L770.6,379.4 L775.8,377.8 L781.1,376.2 L786.2,374.6 L791.4,372.9 L796.6,371.2 L801.8,369.5 L807.0,367.8 L812.1,366.1 L817.3,364.4 L822.4,362.6 L827.6,360.8 L832.7,359.0 L837.8,357.1 L842.9,355.3 L848.1,353.4 L853.2,351.5 L858.3,349.6 L863.4,347.7 L868.4,345.7 L873.5,343.8 L878.6,341.8 L883.6,339.8 L888.7,337.7 L893.7,335.7 L898.8,333.6 L903.8,331.5 L908.8,329.4 L913.8,327.3 L918.8,325.1 L923.8,323.0 L928.8,320.8 L933.8,318.6 L938.8,316.4 L943.7,314.1 L948.7,311.8 L953.6,309.6 L958.5,307.3 L963.5,304.9 L968.4,302.6 L973.3,300.2 L978.2,297.8 L983.1,295.4 L988.0,293.0 L992.8,290.6 L997.7,288.1 L1002.5,285.7 L1007.4,283.2 L1012.2,280.6 L1017.0,278.1 L1021.8,275.6 L1026.6,273.0 L1031.4,270.4 L1036.2,267.8 L1041.0,265.2 L1045.7,262.5 L1050.5,259.9 L1055.2,257.2 L1059.9,254.5 L1064.7,251.8 L1069.4,249.0 L1074.1,246.3 L1078.7,243.5 L1083.4,240.7 L1088.1,237.9 L1092.7,235.1 L1097.4,232.2 L1102.0,229.3 L1106.6,226.5 L1111.2,223.6 L1115.8,220.6 L1120.4,217.7 L1125.0,214.7 L1129.5,211.8 L1134.1,208.8 L1138.6,205.8 L1143.1,202.7 L1147.7,199.7 L1152.2,196.6 L1156.7,193.6 L1161.1,190.5 L1165.6,187.3 L1170.0,184.2 L1174.5,181.1 L1178.9,177.9 L1183.3,174.7 M-264.3,93.6 L-260.2,96.1 L-256.1,98.5 L-252.0,101.0 L-247.9,103.4 L-243.7,105.8 L-239.6,108.2 L-235.4,110.5 L-231.3,112.9 L-227.1,115.2 L-222.9,117.5 L-218.7,119.8 L-214.5,122.1 L-210.3,124.4 L-206.1,126.6 L-201.9,128.8 L-197.6,131.1 L-193.4,133.3 L-189.1,135.4 L-184.9,137.6 L-180.6,139.8 L-176.3,141.9 L-172.0,144.0 L-167.7,146.1 L-163.4,148.2 L-159.1,150.3 L-154.8,152.3 L-150.5,154.3 L-146.1,156.4 L-141.8,158.4 L-137.5,160.3 L-133.1,162.3 L-128.7,164.3 L-124.4,166.2 L-120.0,168.1 L-115.6,170.0 L-111.2,171.9 L-106.8,173.7 L-102.4,175.6 L-98.0,177.4 L-93.5,179.2 L-89.1,181.0 L-84.7,182.8 L-80.2,184.5 L-75.8,186.3 L-71.3,188.0 L-66.8,189.7 L-62.4,191.4 L-57.9,193.1 L-53.4,194.7 L-48.9,196.4 L-44.4,198.0 L-39.9,199.6 L-35.4,201.2 L-30.9,202.7 L-26.4,204.3 L-21.8,205.8 L-17.3,207.3 L-12.8,208.8 L-8.2,210.3 L-3.7,211.8 L0.9,213.2 L5.5,214.6 L10.0,216.0 L14.6,217.4 L19.2,218.8 L23.8,220.1 L28.4,221.5 L33.0,222.8 L37.6,224.1 L42.2,225.4 L46.8,226.6 L51.4,227.9 L56.0,229.1 L60.6,230.3 L65.3,231.5 L69.9,232.7 L74.5,233.8 L79.2,234.9 L83.8,236.1 L88.5,237.2 L93.1,238.2 L97.8,239.3 L102.5,240.4 L107.1,241.4 L111.8,242.4 L116.5,243.4 L121.2,244.3 L125.8,245.3 L130.5,246.2 L135.2,247.1 L139.9,248.0 L144.6,248.9 L149.3,249.8 L154.0,250.6 L158.7,251.5 L163.4,252.3 L168.2,253.0 L172.9,253.8 L177.6,254.6 L182.3,255.3 L187.1,256.0 L191.8,256.7 L196.5,257.4 L201.2,258.0 L206.0,258.7 L210.7,259.3 L215.5,259.9 L220.2,260.5 L225.0,261.0 L229.7,261.6 L234.5,262.1 L239.2,262.6 L244.0,263.1 L248.7,263.6 L253.5,264.0 L258.2,264.5 L263.0,264.9 L267.8,265.3 L272.5,265.7 L277.3,266.0 L282.1,266.4 L286.8,266.7 L291.6,267.0 L296.4,267.3 L301.2,267.6 L305.9,267.8 L310.7,268.0 L315.5,268.2 L320.3,268.4 L325.0,268.6 L329.8,268.8 L334.6,268.9 L339.4,269.0 L344.1,269.1 L348.9,269.2 L353.7,269.3 L358.5,269.3 L363.3,269.3 L368.0,269.3 L372.8,269.3 L377.6,269.3 L382.4,269.2 L387.2,269.2 L391.9,269.1 L396.7,269.0 L401.5,268.9 L406.3,268.7 L411.1,268.5 L415.8,268.4 L420.6,268.2 L425.4,267.9 L430.2,267.7 L434.9,267.5 L439.7,267.2 L444.5,266.9 L449.2,266.6 L454.0,266.2 L458.8,265.9 L463.5,265.5 L468.3,265.1 L473.1,264.7 L477.8,264.3 L482.6,263.9 L487.4,263.4 L492.1,262.9 L496.9,262.4 L501.6,261.9 L506.4,261.4 L511.1,260.8 L515.9,260.2 L520.6,259.7 L525.3,259.0 L530.1,258.4 L534.8,257.8 L539.6,257.1 L544.3,256.4 L549.0,255.7 L553.7,255.0 L558.5,254.3 L563.2,253.5 L567.9,252.7 L572.6,251.9 L577.3,251.1 L582.0,250.3 L586.7,249.4 L591.4,248.6 L596.1,247.7 L600.8,246.8 L605.5,245.8 L610.2,244.9 L614.9,243.9 L619.6,243.0 L624.2,242.0 L628.9,241.0 L633.6,239.9 L638.2,238.9 L642.9,237.8 L647.6,236.7 L652.2,235.6 L656.9,234.5 L661.5,233.3 L666.1,232.2 L670.8,231.0 L675.4,229.8 L680.0,228.6 L684.6,227.4 L689.2,226.1 L693.9,224.8 L698.5,223.5 L703.1,222.2 L707.7,220.9 L712.2,219.6 L716.8,218.2 L721.4,216.8 L726.0,215.4 L730.5,214.0 L735.1,212.6 L739.7,211.2 L744.2,209.7 L748.8,208.2 L753.3,206.7 L757.8,205.2 L762.3,203.6 L766.9,202.1 L771.4,200.5 L775.9,198.9 L780.4,197.3 L784.9,195.7 L789.4,194.1 L793.9,192.4 L798.3,190.7 L802.8,189.0 L807.3,187.3 L811.7,185.6 L816.2,183.8 L820.6,182.1 L825.1,180.3 L829.5,178.5 L833.9,176.7 L838.3,174.8 L842.7,173.0 L847.1,171.1 L851.5,169.2 L855.9,167.3 L860.3,165.4 L864.6,163.5 L869.0,161.5 L873.4,159.5 L877.7,157.5 L882.0,155.5 L886.4,153.5 L890.7,151.5 L895.0,149.4 L899.3,147.3 L903.6,145.3 L907.9,143.1 L912.2,141.0 L916.5,138.9 L920.7,136.7 L925.0,134.6 L929.2,132.4 L933.5,130.2 L937.7,127.9 L941.9,125.7 L946.2,123.4 L950.4,121.2 L954.6,118.9 L958.7,116.6 L962.9,114.2 L967.1,111.9 L971.2,109.5 L975.4,107.2 L979.5,104.8 L983.7,102.4 L987.8,100.0 L991.9,97.5 L996.0,95.1 L1000.1,92.6 L1004.2,90.1 L1008.3,87.6 L1012.3,85.1 L1016.4,82.6 L1020.4,80.0 L1024.5,77.5 L1028.5,74.9 L1032.5,72.3 L1036.5,69.7 L1040.5,67.1 L1044.5,64.4 L1048.5,61.8 L1052.4,59.1 L1056.4,56.4 L1060.3,53.7 L1064.2,51.0 L1068.2,48.2 L1072.1,45.5 L1076.0,42.7 L1079.9,39.9 L1083.7,37.1 M-175.9,-53.0 L-172.3,-50.9 L-168.8,-48.8 L-165.3,-46.7 L-161.7,-44.6 L-158.2,-42.5 L-154.6,-40.5 L-151.0,-38.4 L-147.4,-36.4 L-143.8,-34.4 L-140.2,-32.4 L-136.6,-30.5 L-133.0,-28.5 L-129.4,-26.5 L-125.8,-24.6 L-122.2,-22.7 L-118.5,-20.8 L-114.9,-18.9 L-111.2,-17.0 L-107.5,-15.1 L-103.9,-13.3 L-100.2,-11.5 L-96.5,-9.6 L-92.8,-7.8 L-89.1,-6.0 L-85.4,-4.3 L-81.7,-2.5 L-78.0,-0.8 L-74.2,1.0 L-70.5,2.7 L-66.8,4.4 L-63.0,6.1 L-59.3,7.8 L-55.5,9.4 L-51.7,11.1 L-48.0,12.7 L-44.2,14.3 L-40.4,15.9 L-36.6,17.5 L-32.8,19.1 L-29.0,20.6 L-25.2,22.2 L-21.4,23.7 L-17.6,25.2 L-13.7,26.7 L-9.9,28.2 L-6.1,29.7 L-2.2,31.1 L1.6,32.5 L5.5,34.0 L9.4,35.4 L13.2,36.8 L17.1,38.1 L21.0,39.5 L24.9,40.8 L28.8,42.2 L32.6,43.5 L36.5,44.8 L40.4,46.1 L44.4,47.4 L48.3,48.6 L52.2,49.8 L56.1,51.1 L60.0,52.3 L64.0,53.5 L67.9,54.6 L71.9,55.8 L75.8,57.0 L79.8,58.1 L83.7,59.2 L87.7,60.3 L91.6,61.4 L95.6,62.5 L99.6,63.5 L103.6,64.6 L107.5,65.6 L111.5,66.6 L115.5,67.6 L119.5,68.5 L123.5,69.5 L127.5,70.5 L131.5,71.4 L135.5,72.3 L139.5,73.2 L143.5,74.1 L147.6,74.9 L151.6,75.8 L155.6,76.6 L159.6,77.4 L163.7,78.3 L167.7,79.0 L171.7,79.8 L175.8,80.6 L179.8,81.3 L183.9,82.0 L187.9,82.7 L192.0,83.4 L196.0,84.1 L200.1,84.8 L204.1,85.4 L208.2,86.0 L212.3,86.7 L216.3,87.3 L220.4,87.8 L224.5,88.4 L228.6,89.0 L232.6,89.5 L236.7,90.0 L240.8,90.5 L244.9,91.0 L248.9,91.5 L253.0,91.9 L257.1,92.4 L261.2,92.8 L265.3,93.2 L269.4,93.6 L273.5,93.9 L277.6,94.3 L281.7,94.6 L285.8,95.0 L289.9,95.3 L294.0,95.6 L298.1,95.9 L302.2,96.1 L306.3,96.4 L310.4,96.6 L314.5,96.8 L318.6,97.0 L322.7,97.2 L326.8,97.3 L330.9,97.5 L335.0,97.6 L339.1,97.7 L343.2,97.9 L347.4,97.9 L351.5,98.0 L355.6,98.1 L359.7,98.1 L363.8,98.1 L367.9,98.1 L372.0,98.1 L376.1,98.1 L380.2,98.0 L384.3,98.0 L388.5,97.9 L392.6,97.8 L396.7,97.7 L400.8,97.6 L404.9,97.4 L409.0,97.3 L413.1,97.1 L417.2,96.9 L421.3,96.7 L425.4,96.5 L429.5,96.3 L433.6,96.0 L437.7,95.7 L441.8,95.5 L445.9,95.2 L450.0,94.8 L454.1,94.5 L458.2,94.2 L462.3,93.8 L466.4,93.4 L470.5,93.0 L474.6,92.6 L478.7,92.2 L482.8,91.7 L486.9,91.3 L490.9,90.8 L495.0,90.3 L499.1,89.8 L503.2,89.3 L507.2,88.7 L511.3,88.2 L515.4,87.6 L519.5,87.0 L523.5,86.4 L527.6,85.8 L531.6,85.2 L535.7,84.5 L539.8,83.8 L543.8,83.1 L547.9,82.4 L551.9,81.7 L556.0,81.0 L560.0,80.3 L564.0,79.5 L568.1,78.7 L572.1,77.9 L576.1,77.1 L580.2,76.3 L584.2,75.4 L588.2,74.6 L592.2,73.7 L596.2,72.8 L600.3,71.9 L604.3,71.0 L608.3,70.1 L612.3,69.1 L616.3,68.1 L620.2,67.2 L624.2,66.2 L628.2,65.2 L632.2,64.1 L636.2,63.1 L640.1,62.0 L644.1,60.9 L648.1,59.9 L652.0,58.7 L656.0,57.6 L659.9,56.5 L663.9,55.3 L667.8,54.2 L671.8,53.0 L675.7,51.8 L679.6,50.6 L683.5,49.3 L687.5,48.1 L691.4,46.8 L695.3,45.6 L699.2,44.3 L703.1,43.0 L707.0,41.6 L710.9,40.3 L714.7,38.9 L718.6,37.6 L722.5,36.2 L726.4,34.8 L730.2,33.4 L734.1,32.0 L737.9,30.5 L741.8,29.1 L745.6,27.6 L749.4,26.1 L753.3,24.6 L757.1,23.1 L760.9,21.5 L764.7,20.0 L768.5,18.4 L772.3,16.9 L776.1,15.3 L779.9,13.7 L783.6,12.0 L787.4,10.4 L791.2,8.7 L794.9,7.1 L798.7,5.4 L802.4,3.7 L806.2,2.0 L809.9,0.3 L813.6,-1.5 L817.3,-3.2 L821.1,-5.0 L824.8,-6.8 L828.5,-8.6 L832.1,-10.4 L835.8,-12.2 L839.5,-14.1 L843.2,-15.9 L846.8,-17.8 L850.5,-19.7 L854.1,-21.6 L857.8,-23.5 L861.4,-25.4 L865.0,-27.3 L868.6,-29.3 L872.3,-31.3 L875.9,-33.3 L879.4,-35.2 L883.0,-37.3 L886.6,-39.3 L890.2,-41.3 L893.7,-43.4 L897.3,-45.4 L900.8,-47.5 L904.4,-49.6 L907.9,-51.7 L911.4,-53.8 L914.9,-56.0 L918.4,-58.1 L921.9,-60.3 L925.4,-62.5 L928.9,-64.7 L932.4,-66.9 L935.8,-69.1 L939.3,-71.3 L942.7,-73.6 L946.2,-75.8 L949.6,-78.1 L953.0,-80.4 L956.4,-82.7 L959.8,-85.0 L963.2,-87.3 L966.6,-89.7 L969.9,-92.0 L973.3,-94.4 L976.7,-96.7 L980.0,-99.1 L983.3,-101.5 M-83.4,-206.1 L-80.5,-204.4 L-77.6,-202.6 L-74.7,-200.9 L-71.7,-199.2 L-68.8,-197.5 L-65.8,-195.8 L-62.8,-194.1 L-59.9,-192.4 L-56.9,-190.7 L-53.9,-189.1 L-50.9,-187.4 L-47.9,-185.8 L-44.9,-184.2 L-41.9,-182.6 L-38.9,-181.0 L-35.9,-179.4 L-32.8,-177.8 L-29.8,-176.3 L-26.8,-174.7 L-23.7,-173.2 L-20.7,-171.7 L-17.6,-170.2 L-14.5,-168.7 L-11.5,-167.2 L-8.4,-165.7 L-5.3,-164.2 L-2.2,-162.8 L0.9,-161.4 L4.0,-159.9 L7.1,-158.5 L10.2,-157.1 L13.3,-155.7 L16.4,-154.3 L19.5,-153.0 L22.7,-151.6 L25.8,-150.3 L28.9,-149.0 L32.1,-147.6 L35.2,-146.3 L38.4,-145.0 L41.6,-143.8 L44.7,-142.5 L47.9,-141.2 L51.1,-140.0 L54.3,-138.8 L57.4,-137.6 L60.6,-136.4 L63.8,-135.2 L67.0,-134.0 L70.2,-132.8 L73.4,-131.7 L76.7,-130.5 L79.9,-129.4 L83.1,-128.3 L86.3,-127.2 L89.6,-126.1 L92.8,-125.0 L96.0,-123.9 L99.3,-122.9 L102.5,-121.8 L105.8,-120.8 L109.0,-119.8 L112.3,-118.8 L115.6,-117.8 L118.8,-116.8 L122.1,-115.9 L125.4,-114.9 L128.7,-114.0 L131.9,-113.0 L135.2,-112.1 L138.5,-111.2 L141.8,-110.3 L145.1,-109.5 L148.4,-108.6 L151.7,-107.8 L155.0,-106.9 L158.3,-106.1 L161.6,-105.3 L165.0,-104.5 L168.3,-103.7 L171.6,-102.9 L174.9,-102.2 L178.3,-101.4 L181.6,-100.7 L184.9,-100.0 L188.3,-99.3 L191.6,-98.6 L194.9,-97.9 L198.3,-97.2 L201.6,-96.6 L205.0,-95.9 L208.3,-95.3 L211.7,-94.7 L215.0,-94.1 L218.4,-93.5 L221.8,-92.9 L225.1,-92.4 L228.5,-91.8 L231.9,-91.3 L235.2,-90.8 L238.6,-90.3 L242.0,-89.8 L245.4,-89.3 L248.7,-88.8 L252.1,-88.4 L255.5,-87.9 L258.9,-87.5 L262.3,-87.1 L265.7,-86.7 L269.1,-86.3 L272.4,-85.9 L275.8,-85.5 L279.2,-85.2 L282.6,-84.8 L286.0,-84.5 L289.4,-84.2 L292.8,-83.9 L296.2,-83.6 L299.6,-83.4 L303.0,-83.1 L306.4,-82.9 L309.8,-82.6 L313.2,-82.4 L316.6,-82.2 L320.0,-82.0 L323.4,-81.8 L326.8,-81.7 L330.3,-81.5 L333.7,-81.4 L337.1,-81.3 L340.5,-81.2 L343.9,-81.1 L347.3,-81.0 L350.7,-80.9 L354.1,-80.8 L357.5,-80.8 L360.9,-80.8 L364.4,-80.8 L367.8,-80.7 L371.2,-80.8 L374.6,-80.8 L378.0,-80.8 L381.4,-80.9 L384.8,-80.9 L388.2,-81.0 L391.6,-81.1 L395.0,-81.2 L398.5,-81.3 L401.9,-81.4 L405.3,-81.6 L408.7,-81.7 L412.1,-81.9 L415.5,-82.1 L418.9,-82.3 L422.3,-82.5 L425.7,-82.7 L429.1,-83.0 L432.5,-83.2 L435.9,-83.5 L439.3,-83.7 L442.7,-84.0 L446.1,-84.3 L449.5,-84.7 L452.9,-85.0 L456.3,-85.3 L459.7,-85.7 L463.1,-86.0 L466.5,-86.4 L469.9,-86.8 L473.2,-87.2 L476.6,-87.7 L480.0,-88.1 L483.4,-88.5 L486.8,-89.0 L490.1,-89.5 L493.5,-90.0 L496.9,-90.5 L500.3,-91.0 L503.6,-91.5 L507.0,-92.0 L510.4,-92.6 L513.7,-93.2 L517.1,-93.8 L520.5,-94.3 L523.8,-95.0 L527.2,-95.6 L530.5,-96.2 L533.9,-96.8 L537.2,-97.5 L540.6,-98.2 L543.9,-98.9 L547.2,-99.6 L550.6,-100.3 L553.9,-101.0 L557.2,-101.7 L560.6,-102.5 L563.9,-103.3 L567.2,-104.0 L570.5,-104.8 L573.8,-105.6 L577.2,-106.4 L580.5,-107.3 L583.8,-108.1 L587.1,-109.0 L590.4,-109.8 L593.7,-110.7 L597.0,-111.6 L600.2,-112.5 L603.5,-113.4 L606.8,-114.4 L610.1,-115.3 L613.4,-116.3 L616.6,-117.2 L619.9,-118.2 L623.2,-119.2 L626.4,-120.2 L629.7,-121.2 L632.9,-122.3 L636.2,-123.3 L639.4,-124.4 L642.7,-125.4 L645.9,-126.5 L649.1,-127.6 L652.3,-128.7 L655.6,-129.9 L658.8,-131.0 L662.0,-132.1 L665.2,-133.3 L668.4,-134.5 L671.6,-135.7 L674.8,-136.8 L678.0,-138.1 L681.2,-139.3 L684.4,-140.5 L687.5,-141.8 L690.7,-143.0 L693.9,-144.3 L697.0,-145.6 L700.2,-146.9 L703.3,-148.2 L706.5,-149.5 L709.6,-150.8 L712.7,-152.2 L715.9,-153.5 L719.0,-154.9 L722.1,-156.3 L725.2,-157.7 L728.3,-159.1 L731.4,-160.5 L734.5,-162.0 L737.6,-163.4 L740.7,-164.8 L743.8,-166.3 L746.9,-167.8 L749.9,-169.3 L753.0,-170.8 L756.0,-172.3 L759.1,-173.8 L762.1,-175.4 L765.2,-176.9 L768.2,-178.5 L771.2,-180.1 L774.3,-181.6 L777.3,-183.2 L780.3,-184.9 L783.3,-186.5 L786.3,-188.1 L789.3,-189.8 L792.2,-191.4 L795.2,-193.1 L798.2,-194.8 L801.1,-196.5 L804.1,-198.2 L807.0,-199.9 L810.0,-201.6 L812.9,-203.3 L815.9,-205.1 L818.8,-206.9 L821.7,-208.6 L824.6,-210.4 L827.5,-212.2 L830.4,-214.0 L833.3,-215.8 L836.2,-217.7 L839.0,-219.5 L841.9,-221.3 L844.7,-223.2 L847.6,-225.1 L850.4,-227.0 L853.3,-228.9 L856.1,-230.8 L858.9,-232.7 L861.7,-234.6 L864.5,-236.6 L867.3,-238.5 L870.1,-240.5 L872.9,-242.4 L875.7,-244.4 L878.5,-246.4" fill="none" stroke="#5f91c9" stroke-width="1" stroke-dasharray="3.3 2.7"/></g>
<text transform="translate(80.3,322.0) scale(1.04,1)" font-size="19.4" text-anchor="middle" fill="#5f91c9" font-family="Liberation Sans, sans-serif">120</text>
<text transform="translate(217.1,345.6) scale(1.04,1)" font-size="19.4" text-anchor="middle" fill="#5f91c9" font-family="Liberation Sans, sans-serif">130</text>
<text transform="translate(355.7,354.6) scale(1.04,1)" font-size="19.4" text-anchor="middle" fill="#5f91c9" font-family="Liberation Sans, sans-serif">140</text>
<text transform="translate(494.5,348.7) scale(1.04,1)" font-size="19.4" text-anchor="middle" fill="#5f91c9" font-family="Liberation Sans, sans-serif">150</text>
<text transform="translate(631.8,328.2) scale(1.04,1)" font-size="19.4" text-anchor="middle" fill="#5f91c9" font-family="Liberation Sans, sans-serif">160</text>
<text transform="translate(435.4,618.1) scale(1.04,1)" font-size="19.4" text-anchor="middle" fill="#5f91c9" font-family="Liberation Sans, sans-serif">20</text>
<text transform="translate(428.1,444.7) scale(1.04,1)" font-size="19.4" text-anchor="middle" fill="#5f91c9" font-family="Liberation Sans, sans-serif">30</text>
<text transform="translate(421.0,275.0) scale(1.04,1)" font-size="19.4" text-anchor="middle" fill="#5f91c9" font-family="Liberation Sans, sans-serif">40</text>
<text transform="translate(413.9,103.9) scale(1.04,1)" font-size="19.4" text-anchor="middle" fill="#5f91c9" font-family="Liberation Sans, sans-serif">50</text>
<g clip-path="url(#mc)"><path d="M75.3,94.0 L78.6,100.2 L82.7,98.1 L90.0,99.7 L94.1,105.1 L100.7,100.5 L108.8,102.5 L113.7,109.5 L117.0,115.3 L120.3,120.2 L121.1,125.1 L120.3,129.1 M32.0,138.1 L38.5,141.4 L43.4,139.4 L48.3,137.3 L52.4,133.6 L56.5,135.2 L65.5,136.5 L71.2,133.6 L73.7,131.6 L76.1,127.5 L81.0,124.6 L89.2,126.4 L90.9,123.1 L94.1,125.1 L100.7,123.4 L108.0,124.7 L112.1,127.5 L117.0,128.7 L120.3,128.3 M216.6,94.0 L218.2,96.0 L223.9,97.3 L228.0,96.9 L228.8,98.9 L232.1,101.4 L236.2,101.4 L238.6,104.1 L241.1,107.9 L243.6,111.2 L249.3,112.0 L246.8,116.1 L249.3,120.2 L247.6,124.2 L250.1,129.1 L250.1,132.9 L256.6,133.2 L268.9,133.2 L270.5,129.6 L272.0,129.1 M244.4,180.3 L251.7,178.2 L256.6,173.8 L261.5,176.6 L268.9,179.8 L272.0,174.9 M272.0,129.1 L279.4,128.0 L281.8,126.7 L290.0,124.2 L294.1,126.7 L292.4,131.6 L294.1,135.7 L288.3,141.4 L285.9,146.3 L283.4,152.9 L281.0,161.0 L278.5,165.9 L275.3,170.0 L272.0,174.1 M313.7,183.9 L321.0,177.4 L328.4,169.2 L334.1,159.4 L338.2,149.6 L345.6,139.8 L350.5,132.4 L356.2,126.4 L357.0,120.2 L359.5,115.3 L361.1,105.4 L361.9,98.9 L361.1,94.0 M379.1,94.0 L379.1,107.1 L376.6,120.2 L379.9,133.2 L377.4,143.0 L376.6,156.1 L377.4,164.3 L379.1,169.2 L381.5,164.3 L384.8,156.1 L388.1,154.5 L392.0,156.9 M392.0,108.7 L388.9,113.6 L386.4,123.4 L384.0,134.9 L387.3,143.0 L390.5,149.6 L392.0,154.5 M373.4,183.9 L374.2,177.4 L378.3,175.7 L384.8,183.9 M398.5,94.0 L401.0,103.8 L403.4,111.2 L407.5,116.9 L409.2,121.8 M392.0,109.5 L398.5,110.3 L403.4,113.6 L407.5,118.5 M392.0,152.9 L395.3,153.7 L397.7,161.0 L395.3,167.6 L393.6,159.4 L392.0,156.1 M467.2,170.0 L473.7,161.0 L481.9,156.9 L477.0,162.7 L468.8,170.0 M491.7,147.1 L498.3,139.8 L496.6,142.2 L492.5,146.3 M443.5,183.9 L449.2,177.4 L450.9,174.1 L453.3,175.7 L457.4,172.5 L461.5,173.3 L459.0,175.7 L454.1,177.4 L447.6,183.1 M74.5,273.9 L73.7,267.4 L70.4,265.7 L63.9,263.3 L59.0,257.6 L59.0,251.0 L63.1,246.1 L67.1,246.1 L70.4,250.2 L74.5,249.4 L77.8,250.2 L83.5,246.9 L86.0,242.9 L90.9,238.8 L97.4,238.0 L102.3,236.3 L104.8,233.0 L110.5,228.1 L115.4,227.3 L120.3,229.8 L122.7,227.3 L123.6,230.6 L126.0,236.3 L121.1,242.0 L115.4,246.1 L112.1,249.4 L110.5,251.0 L112.9,254.3 L112.1,258.4 L105.6,260.8 L105.6,264.1 L113.7,260.8 L118.6,259.2 L123.6,255.9 L130.1,252.7 L138.3,251.0 L146.4,251.8 L152.0,251.0 M152.0,248.6 L158.5,243.7 L166.7,241.2 L173.3,238.8 L178.2,234.7 L182.2,230.6 L183.9,227.3 L188.0,226.2 L190.4,230.6 L196.1,233.0 L201.9,234.7 L205.1,232.2 L203.5,227.3 L202.7,224.1 L207.6,223.6 L214.1,225.7 L219.0,222.4 L220.7,219.1 L223.9,220.3 L228.0,212.6 L231.3,211.8 L232.9,215.9 L233.7,219.1 L237.0,220.8 L238.6,218.3 L243.6,216.7 L246.0,212.6 L246.0,205.3 L247.6,195.4 L246.0,184.0 M191.2,273.9 L188.0,269.0 L190.4,261.7 L195.3,258.4 L201.0,257.6 L206.8,254.3 L214.1,249.4 L220.7,246.9 L222.3,242.9 L223.1,236.3 L224.8,231.4 L228.8,226.5 L233.7,223.2 L237.8,220.8 L241.9,218.3 L246.0,215.9 L250.1,211.0 L252.5,207.7 L258.3,208.5 L259.1,214.2 L263.2,217.5 L268.1,219.1 L272.0,218.3 M152.0,254.3 L155.3,257.6 L162.6,260.0 L161.0,266.6 L158.5,273.9 M272.0,218.3 L278.5,216.7 L285.1,212.6 L293.3,207.7 L299.0,202.0 L302.2,196.3 L307.1,191.4 L311.2,186.5 L313.7,184.0 M374.2,184.0 L375.8,190.5 L375.0,197.1 L371.7,205.3 L370.9,211.8 L368.5,215.9 L363.6,215.1 L359.5,212.6 L357.8,215.1 L360.3,218.3 L357.0,221.6 L352.9,223.2 L351.3,228.1 L352.9,234.7 L353.7,239.6 L354.6,245.3 L358.6,242.9 L362.7,238.8 L368.5,239.6 L363.6,234.7 L358.6,233.0 L357.0,229.8 L359.5,226.5 L362.7,226.8 L366.8,229.0 L374.2,225.7 L379.9,226.5 L386.4,231.4 L392.0,235.5 M352.1,273.9 L351.3,269.0 L352.1,264.1 L355.4,259.2 L357.0,249.4 L361.1,250.2 L362.7,254.3 L366.0,254.3 L364.4,246.1 L366.8,244.5 L368.5,247.8 L371.7,245.3 L370.9,252.7 L372.5,260.8 L376.6,265.7 L378.3,273.9 M383.2,184.0 L386.4,187.3 L392.0,193.0 M392.0,193.0 L398.5,197.1 L401.8,199.5 L406.7,200.3 L413.3,202.0 L417.3,197.9 L419.0,194.6 M419.0,194.6 L416.5,202.0 L417.3,206.9 L419.0,211.0 L420.6,214.2 L426.3,211.0 L420.6,214.2 L414.9,216.7 L408.3,218.3 L403.4,220.8 L399.4,224.9 L395.3,229.0 L394.5,233.0 L394.5,236.3 L392.0,234.7 M420.6,205.3 L428.8,192.2 L432.9,192.2 L424.7,203.6 L420.6,205.3 M437.8,192.2 L446.0,184.0 L441.0,190.5 L437.8,192.2 M74.5,274.0 L71.2,279.7 L75.3,284.6 L81.0,285.8 L84.3,283.8 L90.0,278.9 L97.4,277.3 L102.3,280.5 L105.6,285.4 L113.7,287.1 L121.9,289.5 L118.6,292.0 L117.0,296.1 L112.1,297.7 L103.9,296.9 L94.1,298.5 L90.0,301.8 L84.3,304.2 L76.1,309.1 L69.6,313.2 L65.5,318.1 L64.7,323.9 L69.6,327.1 L76.1,331.2 L77.8,336.1 L78.6,344.3 L81.0,357.4 L79.4,363.9 M152.0,280.5 L154.5,278.9 L158.5,275.6 L161.8,274.8 M201.9,354.9 L204.3,350.8 L206.0,350.0 L203.5,354.9 L201.9,354.9 M272.0,341.0 L278.5,340.2 L284.3,339.4 L288.3,343.5 L293.3,342.7 L298.2,339.4 L297.3,336.1 L301.4,331.2 L304.7,326.3 L308.0,322.2 L308.8,316.5 L312.9,311.6 L317.0,311.6 L313.7,316.5 L312.1,321.4 L316.1,323.0 L321.0,319.8 L327.6,316.5 L332.5,313.2 L337.4,308.3 L342.3,302.6 L347.2,295.3 L351.3,288.7 L352.9,282.2 L353.7,274.0 M328.4,305.1 L330.0,300.2 L333.3,298.5 L331.7,304.2 L329.2,305.9 M379.9,274.0 L378.3,280.5 L375.0,287.1 L371.7,292.8 L368.5,298.5 L365.2,302.6 M79.4,364.0 L84.3,367.3 L86.8,371.4 L88.4,375.4 L90.9,380.3 L90.0,384.4 L86.0,386.9 L88.4,391.8 L87.6,395.9 L82.7,396.7 L76.1,398.3 L72.1,400.8 L67.1,401.6 L66.3,400.0 L61.4,401.6 L66.3,402.4 L67.1,405.7 L71.2,404.1 L76.1,404.1 L80.2,407.3 L82.7,410.6 L86.8,408.1 L91.7,411.7 M61.4,364.0 L63.9,368.9 L71.2,372.2 L76.1,375.4 L81.0,377.9 L86.0,382.0 L89.2,385.3 L81.0,380.3 L76.1,376.3 M156.1,366.5 L160.2,364.8 L167.5,365.6 L166.7,368.1 L160.2,368.9 L156.1,367.3 M190.4,382.8 L192.1,380.3 L193.7,382.8 L190.4,382.8 M217.4,424.5 L220.7,418.0 L219.0,424.5 L217.4,424.5 M210.0,425.3 L213.3,423.7 L214.1,426.1 L210.9,426.9 L210.0,425.3 M38.5,543.1 L40.2,537.4 L43.4,534.1 L50.0,527.6 L54.9,519.4 L59.0,512.0 L62.2,507.1 L66.3,501.4 L67.1,495.7 L69.6,494.9 L64.7,490.0 L62.2,488.3 L59.8,490.8 L54.9,491.6 L51.6,494.1 L46.7,499.8 L41.8,504.7 L36.9,509.6 L33.6,514.5 L32.8,519.4 L33.6,527.6 L35.3,532.5 L37.7,535.7 L38.5,543.1 M185.5,458.0 L191.2,456.3 L196.1,454.7 L192.9,458.0 L189.6,460.4 L185.5,458.0 M159.4,491.5 L163.4,485.8 L167.5,481.7 L171.6,480.1 L170.0,484.1 L165.1,487.4 L159.4,491.5 M32.0,601.2 L36.1,604.5 L39.4,608.6 L40.2,614.3 L40.2,609.4 L44.3,610.2 L48.3,606.9 L50.8,607.8 L50.8,611.8 L48.3,614.3 L46.7,619.2 L45.9,624.1 L48.3,628.2 L49.2,631.5 M205.9,377.0 L211.3,376.3 L215.4,379.0 L217.5,384.5 L215.4,388.6 L211.3,391.3 L207.9,394.0 L207.2,398.1 M180.0,342.3 L186.8,339.5 L190.9,342.3 L196.3,342.9 L201.8,340.9 L207.2,338.2 L208.6,330.0 M189.5,383.1 L191.6,380.4 L193.6,383.1 L189.5,383.1 M311.8,320.0 L313.1,322.7 L317.2,322.0 L320.0,320.0 M203.9,371.6 L203.5,374.9 L204.7,378.2 L204.3,381.4 L206.3,383.9 L202.3,388.4 M206.3,383.9 L207.2,385.5 L207.6,389.6 L206.8,392.1 L207.6,394.5 L207.2,400.2 M206.3,377.4 L209.6,376.5 L212.9,376.5 L216.2,379.8 L218.2,384.3 L217.8,387.2 L214.5,390.4 L211.3,393.7 L210.0,397.0 L210.0,401.1 M226.0,370.0 L226.8,371.2 L231.7,372.0 L234.1,373.3 L231.7,375.7 L234.6,377.4 L235.8,379.0 L239.0,383.1 L238.2,385.5 L235.0,388.0 L232.5,390.4 L230.1,394.5 L228.4,400.2 M239.0,376.1 L244.0,373.3 L248.9,370.8 L250.0,370.4 M243.1,376.5 L244.8,379.8 L245.6,383.9 L247.2,387.2 L250.0,385.5 M208.6,334.0 L208.6,327.2 L209.9,310.9 L208.6,304.1 L204.5,294.5 L199.0,280.9 L193.6,272.7 L188.1,270.0 L184.0,266.0 M174.5,291.8 L181.3,285.0 L195.0,285.7 L198.4,282.9 L199.0,280.2 M521.5,94.0 L522.2,98.0 L520.5,100.5 L519.3,98.5 L521.5,94.0 M224.5,363.2 L224.2,357.0 L226.6,356.3 L231.3,357.7 L234.0,354.6 L239.5,352.3 L244.3,348.2 L250.0,344.1 L254.1,341.4 L260.2,342.0 L267.0,342.4 L273.8,341.7 L280.7,340.7 L285.4,340.0 M286.8,344.1 L290.9,342.7 L297.7,341.4 M204.0,372.7 L208.2,369.3 L216.3,367.2 L219.8,364.5 L223.8,363.8 L224.5,363.2 M224.5,363.8 L228.6,365.2 L232.7,363.8 L238.1,365.2 L240.9,367.9 L242.9,363.8 L245.0,360.4 L247.7,359.8 L250.0,361.8 L254.1,360.4 L260.2,359.8 L265.0,358.4 L267.7,357.7 L272.5,355.7 L277.2,355.3 L280.7,356.3 L282.0,358.4 L279.3,361.8 L277.2,363.8 L276.6,365.9 L275.9,368.6 L277.9,371.3 L273.2,374.7 L269.8,378.1 L268.4,380.0 M224.5,365.9 L226.6,370.0 L232.0,370.7 L232.7,375.4 L235.4,378.1 L236.8,380.0 L238.0,384.0 L237.0,390.0 L233.0,396.0 L229.0,403.0 M239.5,375.4 L244.3,373.4 L250.0,369.3 L252.7,363.8 L255.4,367.9 L260.2,367.2 L262.9,365.2 L265.7,361.1 L269.1,361.8 L272.5,363.8 L275.9,365.2 M250.0,367.2 L247.0,369.0 M256.1,377.5 L260.2,375.4 L265.0,376.1 L268.4,378.8 M277.2,364.5 L279.3,361.1 L282.7,358.0 L287.5,356.7 L289.2,358.4 L286.8,361.1 L283.4,363.2 L279.3,364.5 L277.2,364.5 M282.7,363.8 L284.7,366.6 L282.7,370.7 L285.4,374.1 L288.1,376.1 L291.6,378.1 L294.3,374.1 L297.7,369.3 L300.0,367.2 L304.1,365.2 L308.2,363.2 L308.9,360.4 L305.4,359.1 L304.1,357.0 L306.1,352.9 L309.5,352.3 L310.2,357.0 L314.3,357.0 L315.7,358.4 L310.9,359.8 M317.0,359.1 L325.9,359.8 L327.9,361.1 L328.6,357.7 L332.0,352.9 L335.4,352.9 L337.5,354.3 L335.4,357.7 L336.1,361.1 L338.8,357.0 L340.9,352.9 L341.6,349.5 L343.6,348.2 L345.0,345.4 L345.0,342.7 L340.9,343.1 M202.0,355.7 L204.1,351.6 L206.5,350.2 L205.1,354.3 L202.7,356.3 L202.0,355.7" fill="none" stroke="#5f91c9" stroke-width="1.4" stroke-linejoin="round"/><path d="M159.5,271.4 L157.2,272.6 L158.0,276.1 L154.0,276.1 L154.9,279.6 L152.7,280.9 L155.5,282.3 L154.7,285.9 L156.8,287.7 L158.6,289.7 L161.6,287.0 L163.1,290.3 L165.8,288.5 L167.7,290.4 L171.0,290.6 L173.8,292.5 L175.6,294.6 L174.5,297.2 L176.2,299.7 L174.6,303.0 L176.6,305.4 L174.2,304.9 L172.3,307.3 L169.7,305.0 L167.7,306.8 L165.0,309.5 L167.8,309.7 L169.0,312.2 L170.2,314.5 L168.5,317.2 L171.5,319.2 L170.4,321.8 L170.3,324.3 L167.1,325.3 L168.8,328.7 L166.3,330.0 L166.2,332.8 L162.7,333.9 L162.9,336.8 L161.7,339.4 L163.8,342.3 L162.3,344.9 L164.8,345.6 L166.3,347.7 L168.3,345.6 L171.6,348.0 L173.2,344.6 L175.9,344.9 L177.5,342.5 L180.6,344.1 L182.0,341.3 L185.1,343.0 L186.8,340.8 L189.2,342.7 L192.7,341.4 L195.0,343.6 L197.0,341.7 L200.2,342.7 L201.5,339.1 L204.5,339.5 L205.0,337.0 L208.3,336.6 L208.6,334.0 M91.7,411.7 L88.7,410.9 L88.0,413.9 L83.6,413.1 L83.2,416.3 L79.9,416.0 L77.8,418.5 L79.0,421.0 L78.2,423.5 L75.6,424.0 L76.4,427.5 L73.4,429.4 L75.6,431.5 L73.1,435.0 L75.6,437.0 L73.2,435.3 L70.3,438.0 L68.0,436.0 L66.5,438.7 L62.7,438.4 L61.4,441.4 L58.8,443.0 L58.8,446.6 L56.0,448.0 L55.8,451.0 L51.9,450.4 L52.1,453.9 L49.4,454.5 L47.3,456.5 L43.8,455.5 L41.8,457.8 L38.5,460.0 L38.9,462.8 L35.7,464.7 L36.4,467.6 L35.3,470.3 L33.6,472.8 L34.5,476.9 L32.8,480.2 L31.0,482.0" fill="none" stroke="#5f91c9" stroke-width="1.8" stroke-linejoin="round"/></g>
<g clip-path="url(#mc)"><path d="M366.5,314.6 C367.2,318.0 371.9,327.4 371.0,335.0 C370.1,342.6 365.6,353.8 360.8,360.0 C356.0,366.2 349.8,368.2 342.2,372.0 C334.6,375.8 324.8,378.4 315.0,383.0 C305.2,387.6 292.5,396.0 283.6,399.9 C274.7,403.8 266.8,404.2 261.8,406.4 C256.8,408.6 256.9,410.9 253.6,413.1 C250.3,415.3 246.2,416.5 242.1,419.6 C238.0,422.7 234.4,426.4 229.0,431.9 C223.6,437.3 216.2,445.9 209.4,452.3 C202.6,458.7 191.6,467.1 188.0,470.0" fill="none" stroke="#ff0000" stroke-width="3.1" stroke-linejoin="round" stroke-linecap="round"/><polygon points="295.6,390.4 300.6,399.4 290.6,399.4" fill="#ff0000"/><polygon points="234.5,424.9 239.5,433.9 229.5,433.9" fill="#ff0000"/><polygon points="210.5,447.9 215.5,456.9 205.5,456.9" fill="#ff0000"/><polygon points="188.5,468.4 193.5,477.4 183.5,477.4" fill="#ff0000"/><path d="M366.5,314.6 C367.4,319.1 372.1,335.0 371.7,341.5 C371.3,348.0 368.0,349.7 364.0,353.5 C360.0,357.3 353.2,361.1 347.7,364.4 C342.2,367.7 336.4,371.1 331.0,373.5 C325.6,375.9 321.5,376.0 315.0,378.5 C308.5,381.0 301.2,385.7 292.0,388.5 C282.8,391.3 267.0,394.1 260.0,395.5 C253.0,396.9 253.8,395.9 249.8,397.2 C245.8,398.5 241.8,401.3 235.8,403.4 C229.8,405.5 219.8,408.6 214.0,410.0 C208.2,411.4 205.9,411.3 201.0,411.6 C196.1,411.9 187.3,411.6 184.6,411.6" fill="none" stroke="#0000ff" stroke-width="3.1" stroke-linejoin="round" stroke-linecap="round"/><rect x="344.8" y="361.5" width="8.0" height="8.0" fill="#0000ff"/><rect x="316.8" y="376.3" width="8.0" height="8.0" fill="#0000ff"/><rect x="283.6" y="386.0" width="8.0" height="8.0" fill="#0000ff"/><rect x="193.7" y="411.4" width="8.0" height="8.0" fill="#0000ff"/><path d="M366.5,314.6 C367.7,318.0 373.4,328.9 373.9,335.0 C374.4,341.1 372.4,345.9 369.5,351.3 C366.6,356.8 361.8,362.8 356.4,367.7 C350.9,372.6 343.7,377.4 336.8,380.8 C329.9,384.2 321.0,386.7 315.0,388.4 C309.0,390.1 309.5,389.6 301.0,391.2 C292.5,392.8 274.2,396.2 264.0,397.7 C253.8,399.1 248.3,399.0 240.0,399.9 C231.7,400.8 221.1,402.8 214.0,402.9 C206.9,402.9 201.0,401.3 197.7,400.2 C194.3,399.1 194.5,396.9 193.9,396.3" fill="none" stroke="#00ff00" stroke-width="3.1" stroke-linejoin="round" stroke-linecap="round"/><circle cx="302.1" cy="391.7" r="6.0" fill="#00ff00"/><circle cx="263.4" cy="398.8" r="4.5" fill="#00ff00"/><circle cx="193.9" cy="396.3" r="5.5" fill="#00ff00"/><circle cx="340.0" cy="380.0" r="3.5" fill="#00ff00"/><path d="M366.5,314.6 C368.1,318.0 374.9,329.2 376.0,335.0 C377.1,340.8 375.2,343.4 372.8,349.2 C370.4,355.0 367.0,363.7 361.9,369.9 C356.8,376.1 350.0,381.3 342.2,386.2 C334.4,391.1 326.6,395.7 315.0,399.3 C303.4,402.9 285.2,406.4 272.7,408.0 C260.2,409.6 249.8,408.7 240.0,408.6 C230.2,408.5 221.2,408.1 214.0,407.2 C206.8,406.3 202.1,404.8 197.0,403.0 C191.9,401.2 185.8,397.4 183.5,396.3" fill="none" stroke="#00ffff" stroke-width="3.1" stroke-linejoin="round" stroke-linecap="round"/><polygon points="376.0,351.8 380.5,359.9 371.5,359.9" fill="#00ffff"/><polygon points="357.0,378.0 361.5,386.1 352.5,386.1" fill="#00ffff"/><polygon points="191.7,394.6 196.7,403.6 186.7,403.6" fill="#00ffff"/><path d="M366.5,314.6 C368.4,318.0 376.1,329.8 377.7,335.0 C379.3,340.2 377.7,341.0 376.0,345.9 C374.3,350.8 371.1,358.4 367.3,364.4 C363.5,370.4 358.6,376.6 353.1,381.9 C347.7,387.2 341.0,392.6 334.6,396.0 C328.2,399.4 322.6,400.3 315.0,402.6 C307.4,404.9 297.0,408.1 289.0,409.7 C281.0,411.3 275.4,412.0 267.2,412.4 C259.0,412.8 248.9,411.8 240.0,411.9 C231.1,411.9 220.5,412.6 214.0,412.7 C207.5,412.8 204.8,413.6 201.0,412.7 C197.2,411.8 195.0,409.8 191.2,407.2 C187.3,404.6 180.1,398.6 177.9,396.9" fill="none" stroke="#ff00ff" stroke-width="3.1" stroke-linejoin="round" stroke-linecap="round"/><rect x="372.6" y="339.7" width="8.0" height="8.0" fill="#ff00ff"/><rect x="360.0" y="369.7" width="8.0" height="8.0" fill="#ff00ff"/><rect x="329.7" y="391.1" width="11.0" height="11.0" fill="#ff00ff"/><rect x="292.7" y="406.8" width="8.0" height="8.0" fill="#ff00ff"/><rect x="254.5" y="410.6" width="8.0" height="8.0" fill="#ff00ff"/><rect x="222.0" y="412.0" width="8.0" height="8.0" fill="#ff00ff"/><rect x="189.5" y="403.9" width="11.0" height="11.0" fill="#ff00ff"/><rect x="173.9" y="392.9" width="8.0" height="8.0" fill="#ff00ff"/><path d="M366.5,314.6 C367.4,319.5 372.1,335.8 371.7,343.7 C371.3,351.6 368.0,356.4 364.0,362.2 C360.0,368.0 355.9,373.0 347.7,378.6 C339.5,384.2 324.8,392.1 315.0,396.0 C305.2,399.9 297.9,400.8 289.0,402.0 C280.1,403.2 270.0,402.6 261.8,403.1 C253.6,403.7 248.0,405.2 240.0,405.3 C232.0,405.4 220.7,404.3 214.0,404.0 C207.3,403.7 202.2,403.5 199.9,403.4" fill="none" stroke="#ffff00" stroke-width="3.1" stroke-linejoin="round" stroke-linecap="round"/><circle cx="367.3" cy="355.7" r="5.0" fill="#ffff00"/><circle cx="347.2" cy="379.1" r="6.0" fill="#ffff00"/><circle cx="314.1" cy="397.7" r="4.5" fill="#ffff00"/><circle cx="280.9" cy="403.7" r="4.5" fill="#ffff00"/><circle cx="252.5" cy="404.8" r="4.5" fill="#ffff00"/><circle cx="227.7" cy="408.9" r="6.0" fill="#ffff00"/><circle cx="206.4" cy="408.6" r="4.5" fill="#ffff00"/><path d="M366.5,314.6 C367.4,319.8 372.6,338.5 371.7,345.9 C370.8,353.3 366.2,354.6 360.8,359.0 C355.4,363.4 344.1,369.6 339.0,372.0 C333.9,374.4 333.9,373.1 330.0,373.7 C326.1,374.3 320.0,375.1 315.4,375.5 C310.8,375.9 305.9,374.3 302.3,376.0 C298.7,377.7 297.4,383.5 293.6,385.7 C289.8,387.9 281.8,388.4 279.4,389.0" fill="none" stroke="#3399cc" stroke-width="3.1" stroke-linejoin="round" stroke-linecap="round"/><polygon points="361.9,352.3 367.4,362.2 356.4,362.2" fill="#3399cc"/><polygon points="339.0,371.4 344.0,380.4 334.0,380.4" fill="#3399cc"/><polygon points="314.3,371.9 319.3,380.9 309.3,380.9" fill="#3399cc"/><polygon points="302.3,372.0 307.8,381.9 296.8,381.9" fill="#3399cc"/><polygon points="291.4,378.5 297.4,389.3 285.4,389.3" fill="#3399cc"/><polygon points="278.3,378.0 283.8,387.9 272.8,387.9" fill="#3399cc"/><path d="M366.5,314.6 C365.6,316.0 362.8,321.0 361.0,322.7 C359.2,324.4 357.3,323.9 355.8,325.0 C354.3,326.1 352.9,327.6 352.1,329.6 C351.3,331.6 350.9,334.7 350.8,336.8 C350.8,338.9 351.0,340.0 351.8,342.0 C352.6,344.0 354.5,347.3 355.8,348.6 C357.1,349.9 358.2,350.4 359.7,350.0 C361.2,349.6 363.4,347.3 365.0,346.0 C366.6,344.7 368.0,343.5 369.5,342.0 C371.0,340.5 373.4,337.7 374.2,336.8" fill="none" stroke="#ff0000" stroke-width="3.1" stroke-linejoin="round" stroke-linecap="round"/><polygon points="348.0,341.7 354.5,353.4 341.5,353.4" fill="#ff0000"/><polygon points="356.5,345.9 362.0,355.8 351.0,355.8" fill="#ff0000"/><polygon points="369.4,331.7 375.9,343.4 362.9,343.4" fill="#ff0000"/><path d="M366.5,314.6 C367.4,314.0 369.5,312.7 371.8,311.0 C374.1,309.3 375.6,307.4 380.5,304.5 C385.4,301.6 393.2,297.0 401.2,293.6 C409.2,290.2 419.0,287.2 428.4,284.0 C437.8,280.8 447.8,277.3 457.7,274.5 C467.6,271.7 482.7,268.2 487.7,267.0" fill="none" stroke="#0000ff" stroke-width="3.1" stroke-linejoin="round" stroke-linecap="round"/><rect x="360.5" y="316.8" width="17.0" height="17.0" fill="#0000ff"/><rect x="374.3" y="302.7" width="8.0" height="8.0" fill="#0000ff"/><rect x="395.7" y="287.5" width="11.0" height="11.0" fill="#0000ff"/><rect x="423.9" y="281.4" width="8.0" height="8.0" fill="#0000ff"/><rect x="454.4" y="270.5" width="8.0" height="8.0" fill="#0000ff"/><rect x="484.4" y="263.0" width="8.0" height="8.0" fill="#0000ff"/><path d="M366.5,314.6 C367.5,313.0 369.1,308.4 372.3,305.2 C375.6,302.0 378.4,299.3 386.0,295.3 C393.6,291.3 411.1,284.0 417.6,281.1 C424.1,278.2 416.5,280.2 425.0,278.1 C433.5,276.0 452.7,272.1 468.6,268.6 C484.5,265.1 506.8,260.4 520.4,257.0 C534.0,253.6 542.1,250.4 550.0,248.3 C557.9,246.2 561.4,245.7 567.7,244.5 C574.0,243.3 584.6,241.8 588.0,241.3" fill="none" stroke="#00ff00" stroke-width="3.1" stroke-linejoin="round" stroke-linecap="round"/><circle cx="369.8" cy="317.8" r="5.0" fill="#00ff00"/><circle cx="472.0" cy="270.0" r="3.0" fill="#00ff00"/><circle cx="521.0" cy="259.0" r="3.0" fill="#00ff00"/><path d="M366.5,314.6 C367.4,313.1 368.6,308.7 371.8,305.6 C375.1,302.5 378.4,299.8 386.0,295.8 C393.6,291.8 411.1,284.5 417.6,281.6 C424.1,278.7 416.5,280.7 425.0,278.6 C433.5,276.5 452.7,272.6 468.6,269.1 C484.5,265.6 506.8,260.9 520.4,257.5 C534.0,254.2 539.1,251.5 550.0,249.0 C560.9,246.5 576.9,244.0 586.0,242.5 C595.1,241.0 601.4,240.4 604.5,240.0" fill="none" stroke="#00ffff" stroke-width="3.1" stroke-linejoin="round" stroke-linecap="round"/><polygon points="470.0,264.5 474.5,272.6 465.5,272.6" fill="#00ffff"/><polygon points="519.0,254.0 523.5,262.1 514.5,262.1" fill="#00ffff"/><polygon points="565.0,246.0 569.0,253.2 561.0,253.2" fill="#00ffff"/><polygon points="605.1,233.9 610.6,243.8 599.6,243.8" fill="#00ffff"/><polygon points="366.20,304.60 368.27,310.96 374.95,310.96 369.54,314.89 371.61,321.24 366.20,317.31 360.79,321.24 362.86,314.89 357.45,310.96 364.13,310.96" fill="#000" /><path d="M366.5,314.6 C366.6,312.6 364.1,306.2 367.4,302.3 C370.6,298.4 378.0,295.6 386.0,291.4 C394.0,287.2 408.9,280.0 415.4,277.2 C421.9,274.4 417.5,276.3 425.0,274.5 C432.5,272.7 446.8,269.2 460.4,266.3 C474.0,263.4 491.8,259.6 506.7,256.8 C521.6,254.0 536.9,251.2 550.0,249.5 C563.1,247.8 576.8,247.1 585.4,246.8 C594.0,246.5 599.0,247.4 601.7,247.5" fill="none" stroke="#ff00ff" stroke-width="3.1" stroke-linejoin="round" stroke-linecap="round"/><rect x="361.3" y="307.6" width="8.0" height="8.0" fill="#ff00ff"/><rect x="362.9" y="300.5" width="8.0" height="8.0" fill="#ff00ff"/><rect x="381.4" y="289.0" width="8.0" height="8.0" fill="#ff00ff"/><rect x="413.7" y="271.2" width="11.0" height="11.0" fill="#ff00ff"/><rect x="455.7" y="263.7" width="8.0" height="8.0" fill="#ff00ff"/><rect x="502.7" y="254.2" width="8.0" height="8.0" fill="#ff00ff"/><rect x="546.2" y="246.9" width="8.0" height="8.0" fill="#ff00ff"/><rect x="580.6" y="241.3" width="11.0" height="11.0" fill="#ff00ff"/></g>
<g stroke="#707070" stroke-width="1.2" stroke-dasharray="10 10"><line x1="101" y1="666.3" x2="663" y2="666.3"/><line x1="101" y1="700.4" x2="663" y2="700.4"/><line x1="101" y1="734.5" x2="663" y2="734.5"/></g>
<text transform="translate(697.6,673) scale(1.05,1)" font-size="19.2" text-anchor="middle" font-family="Liberation Sans, sans-serif">1500</text>
<text transform="translate(697.6,707) scale(1.05,1)" font-size="19.2" text-anchor="middle" font-family="Liberation Sans, sans-serif">1000</text>
<text transform="translate(697.6,739.8) scale(1.05,1)" font-size="19.2" text-anchor="middle" font-family="Liberation Sans, sans-serif">500</text>
<text transform="translate(67.7,771.1) scale(1.03,1)" font-size="19.6" text-anchor="middle" font-family="Liberation Sans, sans-serif">50</text>
<line x1="152" y1="769" x2="152" y2="777" stroke="#999" stroke-width="1.5"/>
<text transform="translate(152,790.7) scale(1.1,1)" font-size="15" text-anchor="middle" font-family="Liberation Sans, sans-serif">00</text>
<text transform="translate(152,808.7) scale(1.1,1)" font-size="15" text-anchor="middle" font-family="Liberation Sans, sans-serif">04/04</text>
<line x1="192" y1="769" x2="192" y2="777" stroke="#999" stroke-width="1.5"/>
<text transform="translate(192,790.7) scale(1.1,1)" font-size="15" text-anchor="middle" font-family="Liberation Sans, sans-serif">06</text>
<line x1="232" y1="769" x2="232" y2="777" stroke="#999" stroke-width="1.5"/>
<text transform="translate(232,790.7) scale(1.1,1)" font-size="15" text-anchor="middle" font-family="Liberation Sans, sans-serif">12</text>
<line x1="272" y1="769" x2="272" y2="777" stroke="#999" stroke-width="1.5"/>
<text transform="translate(272,790.7) scale(1.1,1)" font-size="15" text-anchor="middle" font-family="Liberation Sans, sans-serif">18</text>
<line x1="312" y1="769" x2="312" y2="777" stroke="#999" stroke-width="1.5"/>
<text transform="translate(312,790.7) scale(1.1,1)" font-size="15" text-anchor="middle" font-family="Liberation Sans, sans-serif">00</text>
<text transform="translate(312,808.7) scale(1.1,1)" font-size="15" text-anchor="middle" font-family="Liberation Sans, sans-serif">04/05</text>
<line x1="352" y1="769" x2="352" y2="777" stroke="#999" stroke-width="1.5"/>
<text transform="translate(352,790.7) scale(1.1,1)" font-size="15" text-anchor="middle" font-family="Liberation Sans, sans-serif">06</text>
<line x1="392" y1="769" x2="392" y2="777" stroke="#999" stroke-width="1.5"/>
<text transform="translate(392,790.7) scale(1.1,1)" font-size="15" text-anchor="middle" font-family="Liberation Sans, sans-serif">12</text>
<line x1="432" y1="769" x2="432" y2="777" stroke="#999" stroke-width="1.5"/>
<text transform="translate(432,790.7) scale(1.1,1)" font-size="15" text-anchor="middle" font-family="Liberation Sans, sans-serif">18</text>
<line x1="472" y1="769" x2="472" y2="777" stroke="#999" stroke-width="1.5"/>
<text transform="translate(472,790.7) scale(1.1,1)" font-size="15" text-anchor="middle" font-family="Liberation Sans, sans-serif">00</text>
<text transform="translate(472,808.7) scale(1.1,1)" font-size="15" text-anchor="middle" font-family="Liberation Sans, sans-serif">04/06</text>
<line x1="512" y1="769" x2="512" y2="777" stroke="#999" stroke-width="1.5"/>
<text transform="translate(512,790.7) scale(1.1,1)" font-size="15" text-anchor="middle" font-family="Liberation Sans, sans-serif">06</text>
<line x1="552" y1="769" x2="552" y2="777" stroke="#999" stroke-width="1.5"/>
<text transform="translate(552,790.7) scale(1.1,1)" font-size="15" text-anchor="middle" font-family="Liberation Sans, sans-serif">12</text>
<line x1="592" y1="769" x2="592" y2="777" stroke="#999" stroke-width="1.5"/>
<text transform="translate(592,790.7) scale(1.1,1)" font-size="15" text-anchor="middle" font-family="Liberation Sans, sans-serif">18</text>
<line x1="632" y1="769" x2="632" y2="777" stroke="#999" stroke-width="1.5"/>
<text transform="translate(632,790.7) scale(1.1,1)" font-size="15" text-anchor="middle" font-family="Liberation Sans, sans-serif">00</text>
<text transform="translate(632,808.7) scale(1.1,1)" font-size="15" text-anchor="middle" font-family="Liberation Sans, sans-serif">04/07</text>
<g clip-path="url(#vc)"><polygon points="152.0,764.3 158.0,775.1 146.0,775.1" fill="#0000ff"/><rect x="148.0" y="767.0" width="8.0" height="8.0" fill="#0000ff"/><polygon points="192.0,765.4 197.0,774.4 187.0,774.4" fill="#00ffff"/><circle cx="232.0" cy="771.0" r="4.0" fill="#ff00ff"/><circle cx="232.0" cy="770.0" r="4.0" fill="#ffff00"/><polygon points="272.0,765.4 277.0,774.4 267.0,774.4" fill="#ff0000"/><polygon points="312.0,765.4 317.0,774.4 307.0,774.4" fill="#0000ff"/><circle cx="312.0" cy="770.0" r="4.0" fill="#00ff00"/><polygon points="352.0,766.3 356.5,774.4 347.5,774.4" fill="#ff0000"/><polygon points="392.0,766.3 396.5,774.4 387.5,774.4" fill="#ff0000"/><polygon points="432.0,766.3 436.5,774.4 427.5,774.4" fill="#ff0000"/><polygon points="472.0,765.4 477.0,774.4 467.0,774.4" fill="#ff0000"/><polygon points="512.0,764.7 516.5,772.8 507.5,772.8" fill="#ff0000"/><polygon points="552.0,752.4 556.5,760.5 547.5,760.5" fill="#ff0000"/><path d="M112.0,765.0 C113.3,765.2 116.7,766.1 120.0,766.5 C123.3,766.9 126.7,767.1 132.0,767.3 C137.3,767.5 148.7,767.5 152.0,767.6" fill="none" stroke="#ff0000" stroke-width="3.1" stroke-linejoin="round" stroke-linecap="round"/><path d="M132.0,765.0 C133.3,765.2 136.7,766.1 140.0,766.5 C143.3,766.9 146.7,767.1 152.0,767.3 C157.3,767.5 168.7,767.5 172.0,767.6" fill="none" stroke="#0000ff" stroke-width="3.1" stroke-linejoin="round" stroke-linecap="round"/><path d="M152.0,765.0 C153.3,765.2 156.7,766.1 160.0,766.5 C163.3,766.9 166.7,767.1 172.0,767.3 C177.3,767.5 188.7,767.5 192.0,767.6" fill="none" stroke="#00ff00" stroke-width="3.1" stroke-linejoin="round" stroke-linecap="round"/><path d="M172.0,765.0 C173.3,765.2 176.7,766.1 180.0,766.5 C183.3,766.9 186.7,767.1 192.0,767.3 C197.3,767.5 208.7,767.5 212.0,767.6" fill="none" stroke="#00ffff" stroke-width="3.1" stroke-linejoin="round" stroke-linecap="round"/><path d="M192.0,765.0 C193.3,765.2 196.7,766.1 200.0,766.5 C203.3,766.9 206.7,767.1 212.0,767.3 C217.3,767.5 228.7,767.5 232.0,767.6" fill="none" stroke="#ff00ff" stroke-width="3.1" stroke-linejoin="round" stroke-linecap="round"/><path d="M212.0,765.0 C213.3,765.2 216.7,766.1 220.0,766.5 C223.3,766.9 226.7,767.1 232.0,767.3 C237.3,767.5 248.7,767.5 252.0,767.6" fill="none" stroke="#ffff00" stroke-width="3.1" stroke-linejoin="round" stroke-linecap="round"/><path d="M232.0,765.0 C233.3,765.2 236.7,766.1 240.0,766.5 C243.3,766.9 246.7,767.1 252.0,767.3 C257.3,767.5 268.7,767.5 272.0,767.6" fill="none" stroke="#3399cc" stroke-width="3.1" stroke-linejoin="round" stroke-linecap="round"/><path d="M252.0,765.0 C253.3,765.2 256.7,766.1 260.0,766.5 C263.3,766.9 266.7,767.1 272.0,767.3 C277.3,767.5 288.7,767.5 292.0,767.6" fill="none" stroke="#ff0000" stroke-width="3.1" stroke-linejoin="round" stroke-linecap="round"/><path d="M272.0,765.0 C273.3,765.2 276.7,766.1 280.0,766.5 C283.3,766.9 286.7,767.1 292.0,767.3 C297.3,767.5 308.7,767.5 312.0,767.6" fill="none" stroke="#0000ff" stroke-width="3.1" stroke-linejoin="round" stroke-linecap="round"/><path d="M292.0,765.0 C293.3,765.2 296.7,766.1 300.0,766.5 C303.3,766.9 306.7,767.1 312.0,767.3 C317.3,767.5 328.7,767.5 332.0,767.6" fill="none" stroke="#00ff00" stroke-width="3.1" stroke-linejoin="round" stroke-linecap="round"/><path d="M312.0,765.0 C313.3,765.2 316.7,766.1 320.0,766.5 C323.3,766.9 326.7,767.1 332.0,767.3 C337.3,767.5 348.7,767.5 352.0,767.6" fill="none" stroke="#00ffff" stroke-width="3.1" stroke-linejoin="round" stroke-linecap="round"/><path d="M332.0,765.0 C333.3,765.2 336.7,766.1 340.0,766.5 C343.3,766.9 346.7,767.1 352.0,767.3 C357.3,767.5 368.7,767.5 372.0,767.6" fill="none" stroke="#ff00ff" stroke-width="3.1" stroke-linejoin="round" stroke-linecap="round"/><path d="M420.0,767.0 C423.3,766.8 431.2,766.5 440.0,765.6 C448.8,764.7 460.7,763.5 472.7,761.5 C484.7,759.5 498.8,755.5 512.0,753.3 C525.2,751.1 545.3,749.2 552.0,748.4" fill="none" stroke="#3399cc" stroke-width="3.1" stroke-linejoin="round" stroke-linecap="round"/><polygon points="512.0,750.8 516.5,758.9 507.5,758.9" fill="#3399cc"/><polygon points="552.0,745.0 556.5,753.1 547.5,753.1" fill="#3399cc"/><path d="M300.0,767.0 C304.2,766.8 318.1,766.6 325.0,765.6 C331.9,764.6 334.5,761.9 341.3,760.7 C348.1,759.5 357.7,758.5 365.9,758.2 C374.1,757.9 382.0,758.6 390.4,759.0 C398.8,759.4 407.4,760.2 416.5,760.7 C425.6,761.2 434.4,761.8 445.0,762.3 C455.6,762.8 468.8,763.6 480.0,764.0 C491.2,764.4 503.4,765.6 512.0,764.8 C520.6,764.0 525.6,760.4 531.6,759.0 C537.6,757.6 544.0,757.0 547.9,756.6 C551.8,756.2 551.1,755.5 555.0,756.6 C558.9,757.7 568.6,762.0 571.3,763.1" fill="none" stroke="#ff0000" stroke-width="3.1" stroke-linejoin="round" stroke-linecap="round"/><path d="M330.0,767.0 C333.5,766.8 340.9,766.4 351.2,765.6 C361.5,764.8 381.1,763.7 392.0,762.3 C402.9,760.9 409.7,758.9 416.5,757.4 C423.3,755.9 428.2,754.7 433.0,753.3 C437.8,751.9 441.9,750.0 445.0,749.2 C448.1,748.4 450.3,748.7 451.4,748.6" fill="none" stroke="#0000ff" stroke-width="3.1" stroke-linejoin="round" stroke-linecap="round"/><rect x="388.5" y="759.0" width="7.0" height="7.0" fill="#0000ff"/><path d="M272.0,765.0 C276.7,765.3 291.2,766.6 300.0,766.8 C308.8,767.0 316.5,767.0 325.0,766.4 C333.5,765.8 344.1,764.9 351.2,763.1 C358.3,761.3 361.8,758.0 367.5,755.8 C373.2,753.6 380.3,750.7 385.5,750.0 C390.7,749.3 393.4,750.5 398.6,751.7 C403.8,752.9 411.1,755.9 416.5,757.4 C421.9,758.9 426.6,759.9 431.3,760.7 C436.1,761.5 438.1,761.9 445.0,762.3 C451.9,762.7 461.5,763.1 472.7,763.1 C483.9,763.1 498.8,762.4 512.0,762.3 C525.2,762.2 538.7,762.4 552.0,762.3 C565.3,762.2 585.2,761.6 591.8,761.5" fill="none" stroke="#0000ff" stroke-width="3.1" stroke-linejoin="round" stroke-linecap="round"/><rect x="348.0" y="761.0" width="8.0" height="8.0" fill="#0000ff"/><rect x="388.2" y="750.0" width="7.5" height="7.5" fill="#0000ff"/><rect x="426.0" y="751.0" width="12.0" height="12.0" fill="#0000ff"/><rect x="426.0" y="755.0" width="12.0" height="12.0" fill="#0000ff"/><rect x="466.0" y="756.3" width="12.0" height="12.0" fill="#0000ff"/><rect x="508.0" y="759.1" width="8.0" height="8.0" fill="#0000ff"/><rect x="548.0" y="759.1" width="8.0" height="8.0" fill="#0000ff"/><rect x="588.0" y="759.1" width="8.0" height="8.0" fill="#0000ff"/><path d="M292.0,765.0 C295.0,765.2 304.5,766.5 310.0,766.5 C315.5,766.5 320.3,766.8 325.0,765.0 C329.7,763.2 333.6,759.3 338.0,756.0 C342.4,752.7 345.9,749.1 351.2,745.1 C356.5,741.1 363.5,735.3 370.0,732.0 C376.5,728.7 384.8,726.9 390.4,725.5 C396.0,724.1 399.1,723.6 403.5,723.9 C407.9,724.2 412.1,725.3 416.5,727.5 C420.9,729.7 424.9,734.9 429.6,737.0 C434.4,739.1 437.8,739.8 445.0,740.0 C452.2,740.2 461.5,738.2 472.7,738.0 C483.9,737.8 498.8,739.0 512.0,738.5 C525.2,738.0 538.7,736.2 552.0,735.0 C565.3,733.8 582.0,731.9 591.8,731.3 C601.6,730.7 607.5,731.3 610.6,731.3" fill="none" stroke="#00ff00" stroke-width="3.1" stroke-linejoin="round" stroke-linecap="round"/><circle cx="592.0" cy="734.5" r="3.5" fill="#00ff00"/><path d="M312.0,765.0 C314.2,764.8 320.6,765.8 325.0,764.0 C329.4,762.2 333.7,757.6 338.1,754.1 C342.5,750.6 346.3,746.5 351.2,742.7 C356.1,738.9 361.0,734.6 367.5,731.3 C374.0,728.0 384.4,724.9 390.4,723.1 C396.4,721.3 399.1,720.3 403.5,720.6 C407.9,720.9 412.1,722.4 416.5,724.7 C420.9,727.0 425.8,732.0 429.6,734.5 C433.4,737.0 432.2,738.7 439.4,739.4 C446.6,740.1 460.6,738.6 472.7,738.6 C484.8,738.6 498.3,740.2 512.0,739.4 C525.7,738.6 541.7,735.5 555.0,733.7 C568.3,731.9 580.9,729.3 591.8,728.8 C602.7,728.2 613.7,730.8 620.4,730.4 C627.1,730.0 629.9,727.0 631.8,726.3" fill="none" stroke="#00ffff" stroke-width="3.1" stroke-linejoin="round" stroke-linecap="round"/><polygon points="472.7,731.0 476.7,738.2 468.7,738.2" fill="#00ffff"/><polygon points="512.0,734.9 516.0,742.1 508.0,742.1" fill="#00ffff"/><polygon points="552.0,732.5 556.0,739.7 548.0,739.7" fill="#00ffff"/><polygon points="631.8,721.1 637.3,731.0 626.3,731.0" fill="#00ffff"/><path d="M332.0,765.0 C335.2,762.5 344.2,755.1 351.2,750.0 C358.2,744.9 367.2,738.0 374.0,734.5 C380.8,731.0 387.1,730.2 392.0,728.8 C396.9,727.4 399.4,725.9 403.5,726.3 C407.6,726.7 411.9,728.4 416.5,731.3 C421.1,734.2 426.6,740.9 431.3,743.5 C436.1,746.1 438.1,746.5 445.0,746.8 C451.9,747.1 461.5,745.1 472.7,745.1 C483.9,745.1 498.8,747.1 512.0,746.8 C525.2,746.5 538.7,744.7 552.0,743.5 C565.3,742.3 578.5,740.2 591.8,739.4 C605.1,738.6 621.8,739.1 631.8,738.6 C641.8,738.1 648.2,736.6 651.5,736.2" fill="none" stroke="#ff00ff" stroke-width="3.1" stroke-linejoin="round" stroke-linecap="round"/><rect x="347.2" y="746.9" width="8.0" height="8.0" fill="#ff00ff"/><rect x="388.0" y="724.8" width="8.0" height="8.0" fill="#ff00ff"/><rect x="428.0" y="739.5" width="8.0" height="8.0" fill="#ff00ff"/><rect x="466.5" y="739.6" width="11.0" height="11.0" fill="#ff00ff"/><rect x="508.0" y="743.6" width="8.0" height="8.0" fill="#ff00ff"/><rect x="548.0" y="739.5" width="8.0" height="8.0" fill="#ff00ff"/><rect x="587.8" y="737.0" width="8.0" height="8.0" fill="#ff00ff"/><rect x="626.3" y="733.9" width="11.0" height="11.0" fill="#ff00ff"/><path d="M518.0,766.5 L532.0,766.5" fill="none" stroke="#ffff00" stroke-width="3.1" stroke-linejoin="round" stroke-linecap="round"/></g>
<defs><clipPath id="vc"><rect x="32" y="634" width="700" height="178"/></clipPath></defs>
<polygon points="112.00,755.10 114.07,761.46 120.75,761.46 115.34,765.39 117.41,771.74 112.00,767.81 106.59,771.74 108.66,765.39 103.25,761.46 109.93,761.46" fill="#000" />
<polygon points="132.00,755.10 134.07,761.46 140.75,761.46 135.34,765.39 137.41,771.74 132.00,767.81 126.59,771.74 128.66,765.39 123.25,761.46 129.93,761.46" fill="#000" />
<polygon points="152.00,755.10 154.07,761.46 160.75,761.46 155.34,765.39 157.41,771.74 152.00,767.81 146.59,771.74 148.66,765.39 143.25,761.46 149.93,761.46" fill="#000" />
<polygon points="172.00,755.10 174.07,761.46 180.75,761.46 175.34,765.39 177.41,771.74 172.00,767.81 166.59,771.74 168.66,765.39 163.25,761.46 169.93,761.46" fill="#000" />
<polygon points="192.00,755.10 194.07,761.46 200.75,761.46 195.34,765.39 197.41,771.74 192.00,767.81 186.59,771.74 188.66,765.39 183.25,761.46 189.93,761.46" fill="#000" />
<polygon points="212.00,755.10 214.07,761.46 220.75,761.46 215.34,765.39 217.41,771.74 212.00,767.81 206.59,771.74 208.66,765.39 203.25,761.46 209.93,761.46" fill="#000" />
<polygon points="232.00,755.10 234.07,761.46 240.75,761.46 235.34,765.39 237.41,771.74 232.00,767.81 226.59,771.74 228.66,765.39 223.25,761.46 229.93,761.46" fill="#000" />
<polygon points="252.00,755.10 254.07,761.46 260.75,761.46 255.34,765.39 257.41,771.74 252.00,767.81 246.59,771.74 248.66,765.39 243.25,761.46 249.93,761.46" fill="#000" />
<polygon points="272.00,755.10 274.07,761.46 280.75,761.46 275.34,765.39 277.41,771.74 272.00,767.81 266.59,771.74 268.66,765.39 263.25,761.46 269.93,761.46" fill="#000" />
<polygon points="292.00,755.10 294.07,761.46 300.75,761.46 295.34,765.39 297.41,771.74 292.00,767.81 286.59,771.74 288.66,765.39 283.25,761.46 289.93,761.46" fill="#000" />
<polygon points="312.00,755.10 314.07,761.46 320.75,761.46 315.34,765.39 317.41,771.74 312.00,767.81 306.59,771.74 308.66,765.39 303.25,761.46 309.93,761.46" fill="#000" />
<polygon points="332.00,755.10 334.07,761.46 340.75,761.46 335.34,765.39 337.41,771.74 332.00,767.81 326.59,771.74 328.66,765.39 323.25,761.46 329.93,761.46" fill="#000" />
<rect x="31" y="93" width="702" height="819" fill="none" stroke="#000" stroke-width="2"/>
<line x1="30" y1="633" x2="734" y2="633" stroke="#000" stroke-width="2"/>
<line x1="30" y1="768" x2="734" y2="768" stroke="#000" stroke-width="2"/>
<line x1="30" y1="813" x2="734" y2="813" stroke="#000" stroke-width="2"/>
<text x="66" y="828.7" font-size="16.8" font-family="Liberation Sans, sans-serif" xml:space="preserve">This is not a NOAA product. It was produced by a web user.</text>
<text x="66" y="844.1" font-size="16.8" font-family="Liberation Sans, sans-serif" xml:space="preserve">Job ID: 17487</text>
<text x="295" y="844.1" font-size="16.8" font-family="Liberation Sans, sans-serif" xml:space="preserve">Job Start: Fri Apr  1 06:16:09 UTC 2011</text>
<text x="66" y="859.5" font-size="16.8" font-family="Liberation Sans, sans-serif" xml:space="preserve">Source 1</text>
<text x="159.4" y="859.5" font-size="16.8" font-family="Liberation Sans, sans-serif" xml:space="preserve">lat.: 37.42</text>
<text x="251.4" y="859.5" font-size="16.8" font-family="Liberation Sans, sans-serif" xml:space="preserve">lon.: 141.03</text>
<text x="361.8" y="859.5" font-size="16.8" font-family="Liberation Sans, sans-serif" xml:space="preserve">height: 50 m AGL</text>
<text x="66" y="874.9" font-size="16.8" font-family="Liberation Sans, sans-serif" xml:space="preserve">Trajectory Direction: Forward</text>
<text x="308.6" y="874.9" font-size="16.8" font-family="Liberation Sans, sans-serif" xml:space="preserve">Duration: 48 hrs</text>
<text x="66" y="890.3" font-size="16.8" font-family="Liberation Sans, sans-serif" xml:space="preserve">Vertical Motion Calculation Method:</text>
<text x="360.2" y="890.3" font-size="16.8" font-family="Liberation Sans, sans-serif" xml:space="preserve">Model Vertical Velocity</text>
<text x="66" y="905.7" font-size="16.8" font-family="Liberation Sans, sans-serif" xml:space="preserve">Meteorology: 0000Z  1 Apr 2011 - GFS</text></svg>
</body></html>
